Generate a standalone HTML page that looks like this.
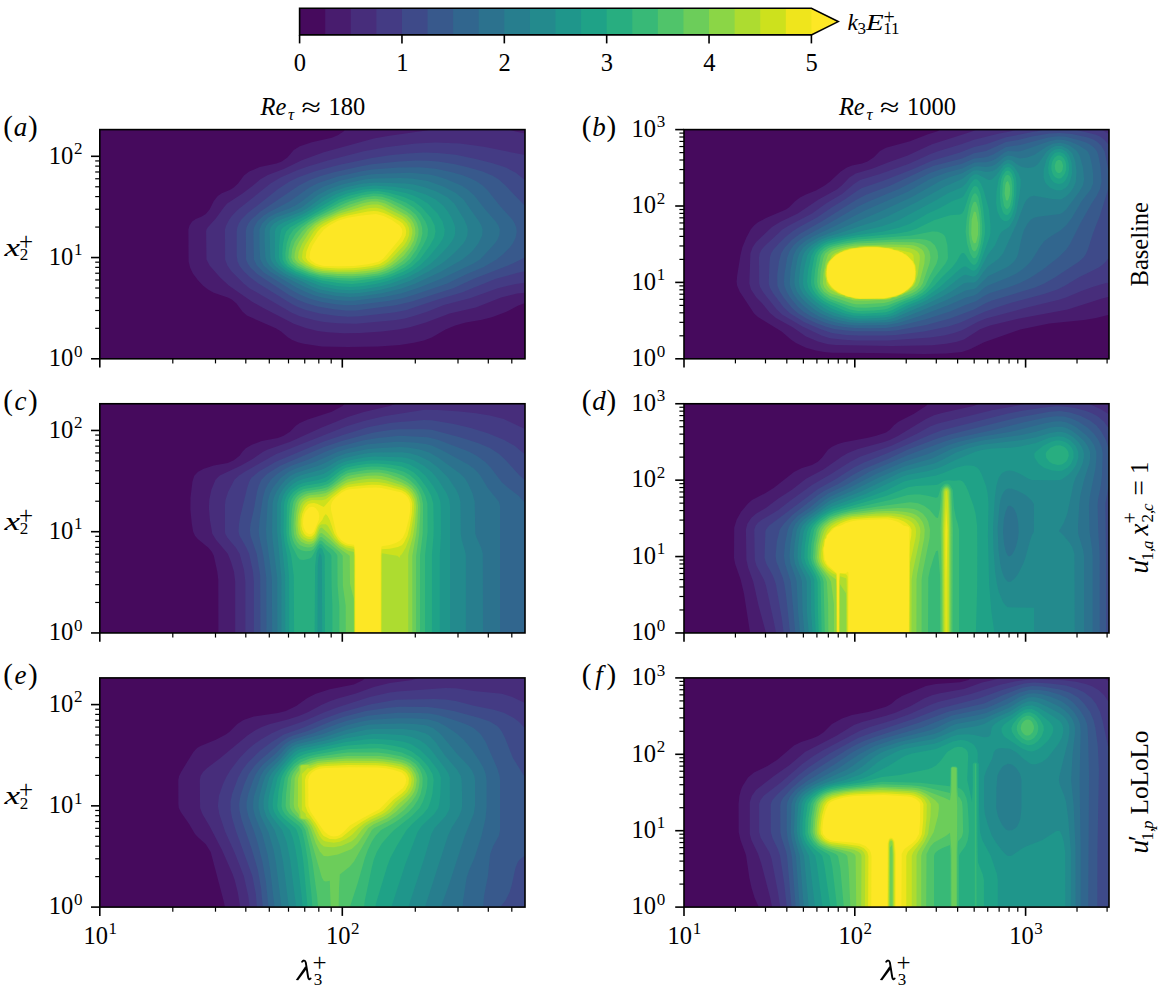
<!DOCTYPE html>
<html><head><meta charset="utf-8"><style>html,body{margin:0;padding:0;background:#fff;overflow:hidden}svg{display:block}</style></head><body><svg width="1158" height="993" viewBox="0 0 1158 993" font-family="Liberation Serif, serif">
<defs>
<clipPath id="cpa"><rect x="99.8" y="129.6" width="425.2" height="229.2"/></clipPath>
<clipPath id="cpb"><rect x="684" y="129.6" width="425" height="229.2"/></clipPath>
<clipPath id="cpc"><rect x="99.8" y="403.75" width="425.2" height="229.2"/></clipPath>
<clipPath id="cpd"><rect x="684" y="403.75" width="425" height="229.2"/></clipPath>
<clipPath id="cpe"><rect x="99.8" y="677.9" width="425.2" height="229.2"/></clipPath>
<clipPath id="cpf"><rect x="684" y="677.9" width="425" height="229.2"/></clipPath>
</defs>
<rect width="1158" height="993" fill="#fff"/>
<g clip-path="url(#cpa)"><rect x="99.8" y="129.6" width="425.2" height="229.2" fill="#460a5d"/>
<path fill="#481c6e" d="M343.8,131.3 345.8,127.6 527.8,127.6 527.8,303.3 523.8,303.6 518.3,305.6 505.8,312.1 491.8,317.3 481.8,319.8 465.8,322.4 455.1,325.6 445.5,329.6 431.7,337.6 423.8,340.4 413.8,342.8 399.8,344.9 377.8,346.5 347.8,346.9 321.8,346.4 303.8,343.7 297.8,342.2 291.8,339.7 287.8,337.3 281.1,331.6 275.8,328.2 246.9,315.6 242.4,311.6 236.5,303.6 231.8,299.6 227.8,297.4 213.8,292.8 208.0,289.6 202.9,285.6 197.8,280.1 192.9,273.6 190.1,267.6 188.6,261.6 188.4,229.6 189.5,225.6 192.2,221.6 195.8,219.0 201.8,216.6 205.8,214.0 209.6,209.6 213.8,201.1 217.8,195.9 221.8,193.2 229.8,189.9 233.8,187.5 238.1,183.6 244.0,175.6 249.2,171.6 259.8,167.1 276.5,163.6 281.8,161.6 287.4,157.6 293.8,149.9 299.8,146.2 311.8,142.2 331.8,137.7 337.8,135.2 343.6,131.6Z"/>
<path fill="#472d7b" d="M419.8,131.4 435.8,128.8 445.8,127.7 499.8,127.6 505.8,128.3 515.4,131.6 523.8,133.3 527.8,133.6 527.8,292.4 517.1,293.6 501.0,297.6 475.8,307.6 449.6,313.6 425.8,322.5 409.8,327.3 399.8,329.3 381.8,331.5 359.8,333.1 343.8,333.3 327.8,332.3 317.8,331.1 305.8,328.1 293.8,323.8 263.8,308.3 251.8,301.5 228.8,285.6 220.2,277.6 209.6,265.6 206.5,259.6 206.1,231.6 206.5,229.6 207.7,227.6 215.8,218.4 223.8,207.4 227.2,203.6 242.5,193.6 251.8,186.6 260.1,179.6 267.8,174.9 283.8,169.0 301.8,160.3 323.8,152.2 373.8,138.6 387.8,136.0 419.0,131.6Z"/>
<path fill="#443b84" d="M415.8,143.6 435.8,142.5 459.8,143.6 483.8,146.8 523.8,154.8 527.8,155.1 527.8,282.4 515.8,283.9 497.8,288.2 469.8,298.3 443.8,305.1 427.8,311.4 413.8,316.1 403.8,318.7 393.8,320.2 355.8,323.7 337.8,323.3 323.8,321.9 313.8,320.1 299.8,316.2 291.8,312.7 249.8,288.4 243.7,283.6 231.6,271.6 227.4,265.6 225.1,259.6 225.0,229.6 226.1,225.6 229.3,219.6 232.2,215.6 237.8,209.8 270.5,183.6 280.5,177.6 297.8,170.0 307.8,166.5 327.8,160.5 363.8,151.3 385.8,147.2 415.6,143.6Z"/>
<path fill="#3e4a89" d="M407.8,153.5 423.8,152.4 437.8,152.9 455.8,154.8 475.8,158.9 491.8,162.9 506.0,167.6 515.8,172.7 523.8,179.3 527.8,180.5 527.8,271.4 523.8,271.6 517.8,272.8 495.8,278.7 461.8,292.4 437.8,299.6 405.8,310.2 393.8,312.4 359.8,316.2 347.8,316.7 335.8,315.8 319.8,313.5 305.8,309.9 297.8,307.0 291.8,304.0 258.5,283.6 249.8,276.9 244.0,271.6 239.8,266.3 237.5,261.6 236.7,255.6 236.7,231.6 237.3,227.6 238.8,223.6 241.4,219.6 247.8,213.1 277.8,189.3 289.6,181.6 297.8,177.5 315.8,171.1 339.8,164.8 371.8,158.0 389.8,155.3 406.9,153.6Z"/>
<path fill="#38598c" d="M399.8,161.5 415.8,160.6 427.8,160.7 437.8,161.6 453.8,164.1 467.8,167.2 481.8,171.3 492.2,175.6 498.8,179.6 505.5,185.6 523.8,204.7 527.8,206.0 527.8,256.9 523.8,257.9 512.7,263.6 473.8,278.7 453.8,288.1 411.8,301.4 395.8,305.3 355.8,310.4 345.8,310.6 333.8,309.3 317.8,306.5 305.8,303.0 297.8,299.7 289.8,295.4 257.8,274.5 250.4,267.6 247.7,263.6 246.1,259.6 245.8,231.6 246.5,227.6 248.3,223.6 251.4,219.6 259.8,212.0 299.0,185.6 309.8,179.9 319.8,176.3 333.8,172.2 359.8,166.5 371.8,164.3 398.9,161.6Z"/>
<path fill="#31668e" d="M399.8,167.5 419.8,167.2 435.8,168.7 451.8,172.2 461.8,175.1 469.8,178.0 476.8,181.6 482.6,185.6 487.8,190.5 499.8,205.8 512.3,219.6 514.7,223.6 516.2,227.6 516.7,231.6 515.7,237.6 512.8,243.6 509.8,247.6 503.8,253.6 496.5,259.6 483.8,266.9 465.8,274.6 447.3,283.6 415.8,294.3 401.8,298.4 387.8,301.0 355.8,305.1 345.8,305.2 335.8,304.2 321.8,302.0 309.8,298.7 299.8,294.5 291.8,290.3 263.8,272.4 256.9,265.6 253.9,259.6 253.4,231.6 254.0,227.6 257.3,221.6 263.8,215.5 269.8,211.7 289.6,201.6 309.4,187.6 317.8,183.2 337.8,176.5 361.8,171.2 371.8,169.6 398.5,167.6Z"/>
<path fill="#2c728e" d="M387.8,173.6 409.8,172.8 429.8,174.5 437.8,176.4 445.8,179.0 461.8,185.8 467.8,189.7 474.3,195.6 485.2,209.6 495.7,221.6 498.4,225.6 499.8,229.6 499.3,235.6 497.5,239.6 494.8,243.6 480.0,259.6 473.5,263.6 441.8,278.6 419.3,287.6 401.8,293.3 383.8,297.0 353.8,300.8 345.8,300.8 335.8,299.9 321.8,297.5 313.8,295.3 305.8,292.1 295.8,287.2 270.1,271.6 263.6,265.6 260.3,259.6 259.5,247.6 259.4,229.6 262.1,223.6 268.3,217.6 275.8,213.5 289.8,208.3 295.4,205.6 301.5,201.6 313.8,191.9 323.8,186.5 339.8,180.8 359.8,176.2 371.8,174.3 387.4,173.6Z"/>
<path fill="#277e8e" d="M365.8,179.3 373.8,178.5 399.8,178.0 411.8,178.5 427.8,181.1 443.8,186.8 455.8,192.9 463.5,199.6 479.1,221.6 481.3,225.6 482.6,229.6 482.2,235.6 478.3,243.6 471.8,251.7 462.4,259.6 441.3,271.6 415.5,283.6 401.8,288.5 381.8,293.3 359.8,296.5 349.8,297.1 335.8,296.0 317.8,292.5 303.8,286.6 283.8,276.2 277.8,272.5 273.7,269.6 269.4,265.6 266.7,261.6 265.4,257.6 264.6,241.6 264.7,229.6 266.3,225.6 269.8,221.6 275.9,217.6 292.8,211.6 301.6,207.6 317.8,195.1 328.2,189.6 341.8,184.6 364.1,179.6Z"/>
<path fill="#238a8d" d="M363.8,183.4 375.8,182.4 405.8,183.4 413.8,184.6 423.8,187.0 436.5,191.6 447.7,197.6 454.3,203.6 464.2,219.6 466.8,225.6 467.8,229.6 467.3,235.6 465.8,239.6 463.3,243.6 455.8,251.6 446.9,259.6 441.6,263.6 428.6,271.6 409.8,280.9 393.8,286.5 379.8,289.9 359.8,293.0 349.8,293.6 335.8,292.4 319.8,289.4 311.8,286.4 302.2,281.6 289.8,276.3 283.8,273.0 279.0,269.6 274.6,265.6 271.7,261.6 270.3,257.6 269.6,231.6 270.6,227.6 273.8,223.5 279.8,220.0 301.8,211.5 308.3,207.6 321.8,197.6 333.4,191.6 345.8,187.2 362.9,183.6Z"/>
<path fill="#1f968b" d="M359.8,187.3 373.8,185.6 393.8,186.8 409.8,189.2 425.8,194.4 435.7,199.6 443.1,205.6 447.8,211.6 451.4,217.6 454.0,223.6 455.1,227.6 455.2,233.6 454.0,237.6 451.8,241.6 447.1,247.6 437.5,257.6 430.8,263.6 418.8,271.6 407.8,277.3 391.8,283.2 379.8,286.4 361.8,289.4 349.8,290.3 337.8,289.4 321.8,286.5 295.8,276.3 286.4,271.6 279.1,265.6 276.2,261.6 274.9,257.6 274.9,231.6 275.8,228.4 278.1,225.6 283.8,222.3 304.1,213.6 310.9,209.6 323.8,200.7 335.8,194.3 345.8,190.6 358.6,187.6Z"/>
<path fill="#1fa287" d="M363.8,189.4 375.8,188.4 389.8,189.7 405.8,193.1 413.3,195.6 419.8,198.5 427.8,203.6 437.5,213.6 442.5,221.6 444.7,229.6 444.1,235.6 442.4,239.6 439.8,243.6 428.3,257.6 419.8,265.6 411.8,271.1 403.8,275.1 387.8,280.9 375.8,283.9 359.8,286.4 349.8,287.1 337.8,286.2 321.8,283.3 297.8,274.7 289.8,271.0 285.0,267.6 281.8,264.2 280.1,261.6 278.8,257.6 279.0,245.6 279.9,235.6 281.3,229.6 283.0,227.6 289.4,223.6 305.8,215.6 329.8,201.2 337.8,196.9 347.8,193.2 363.0,189.6Z"/>
<path fill="#28ae80" d="M367.8,191.5 377.8,191.1 387.8,192.5 403.8,197.0 414.0,201.6 421.8,207.6 430.6,217.6 434.6,225.6 435.5,231.6 434.3,237.6 429.9,245.6 419.6,259.6 411.8,266.7 403.6,271.6 389.8,277.2 379.8,280.0 363.8,282.7 351.8,283.9 339.8,283.3 321.8,280.5 307.8,276.2 295.6,271.6 287.8,266.7 284.7,263.6 282.6,259.6 282.2,253.6 283.0,243.6 284.7,235.6 286.3,231.6 290.0,227.6 339.8,199.3 349.8,195.6 367.1,191.6Z"/>
<path fill="#38b977" d="M373.8,193.6 381.8,194.1 391.8,196.7 405.8,202.4 413.8,207.5 420.2,213.6 425.4,221.6 427.1,225.6 428.0,229.6 427.6,235.6 426.2,239.6 423.2,245.6 415.7,257.6 410.0,263.6 404.4,267.6 393.8,272.9 383.8,276.5 373.8,278.5 353.8,280.9 341.8,280.6 321.8,278.2 309.8,274.9 295.8,269.4 289.8,265.4 287.8,263.2 285.7,259.6 285.3,253.6 286.7,243.6 289.5,235.6 293.7,229.6 299.0,225.6 313.8,216.4 339.8,202.5 345.8,199.9 361.8,195.2 373.1,193.6Z"/>
<path fill="#50c46a" d="M363.8,197.4 373.8,196.1 381.8,196.8 389.8,199.2 401.8,204.8 409.8,209.6 415.8,214.8 420.2,221.6 422.1,227.6 422.4,233.6 420.4,241.6 416.5,249.6 409.8,259.0 404.7,263.6 395.8,269.0 387.8,272.7 379.8,275.2 365.8,277.3 351.8,278.5 337.8,278.0 321.8,276.3 309.8,273.1 296.7,267.6 291.4,263.6 289.8,261.6 288.3,257.6 288.9,249.6 291.1,241.6 295.7,233.6 301.4,227.6 309.5,221.6 316.0,217.6 341.8,204.7 349.4,201.6 363.0,197.6Z"/>
<path fill="#6ccd5a" d="M367.8,199.3 375.8,198.7 383.8,200.1 389.8,202.4 405.8,211.0 411.8,215.6 415.0,219.6 417.1,223.6 418.6,229.6 418.3,235.6 415.8,243.6 412.5,249.6 406.4,257.6 401.8,261.8 393.0,267.6 385.8,271.1 377.8,273.4 363.8,275.4 351.8,276.3 337.8,276.0 319.8,274.2 309.8,271.2 297.8,265.8 293.0,261.6 291.3,257.6 292.1,249.6 295.0,241.6 302.1,231.6 308.0,225.6 319.8,217.9 335.8,210.4 349.8,204.5 366.1,199.6Z"/>
<path fill="#8bd646" d="M371.8,201.5 377.8,201.5 385.2,203.6 407.1,215.6 411.2,219.6 413.6,223.6 415.0,227.6 415.4,233.6 413.8,240.3 410.1,247.6 403.8,255.4 397.1,261.6 389.8,266.7 381.8,270.2 375.8,271.7 363.8,273.4 351.8,274.3 337.8,274.1 323.8,273.1 315.8,271.5 305.8,267.6 297.8,262.8 295.1,259.6 294.5,257.6 294.7,253.6 296.2,247.6 299.2,241.6 307.7,229.6 314.6,223.6 321.8,219.2 339.8,211.1 361.6,203.6 370.8,201.6Z"/>
<path fill="#addc30" d="M365.8,205.6 371.8,204.5 377.8,204.6 381.8,205.6 387.8,208.4 401.8,215.6 405.8,218.3 410.3,223.6 412.3,229.6 412.3,233.6 410.9,239.6 407.8,245.6 404.7,249.6 395.0,259.6 390.1,263.6 383.8,267.2 377.8,269.2 365.8,271.1 353.8,272.2 337.8,272.2 321.8,271.1 313.8,269.0 306.2,265.6 300.4,261.6 298.8,259.6 298.0,257.6 298.7,251.6 302.2,243.6 309.9,231.6 315.7,225.6 321.8,221.6 337.8,214.1 365.8,205.6Z"/>
<path fill="#cde11d" d="M363.8,209.3 369.8,208.1 375.8,207.7 379.8,208.4 383.8,209.8 402.7,219.6 406.8,223.6 408.8,227.6 409.4,231.6 409.0,235.6 406.6,241.6 403.9,245.6 388.6,261.6 383.8,264.7 377.8,267.0 365.8,269.1 353.8,270.2 337.8,270.4 323.6,269.6 315.8,267.9 309.8,265.3 304.5,261.6 302.8,259.6 302.0,257.6 302.7,251.6 305.0,245.6 313.7,231.6 317.8,227.1 323.8,223.1 337.8,216.3 345.8,213.7 362.7,209.6Z"/>
<path fill="#efe51c" d="M367.8,211.6 373.8,211.0 377.8,211.2 383.8,212.9 389.8,215.7 399.8,221.3 402.7,223.6 405.4,227.6 406.2,231.6 405.7,235.6 402.7,241.6 386.7,259.6 379.8,263.9 371.8,266.0 360.6,267.6 351.8,268.2 337.8,268.4 322.0,267.6 315.8,265.9 311.0,263.6 307.8,261.0 305.7,257.6 306.4,251.6 309.8,243.6 317.6,231.6 321.4,227.6 331.4,221.6 339.8,217.8 347.8,215.5 367.6,211.6Z"/>
<path fill="#fde725" d="M361.8,215.5 375.8,214.1 383.8,216.1 391.8,220.1 399.6,225.6 401.8,228.7 402.4,231.6 401.7,235.6 399.3,239.6 383.8,258.0 381.8,259.8 377.8,261.9 367.8,264.2 353.8,265.9 337.8,266.3 323.8,265.9 319.8,265.1 315.6,263.6 311.8,261.1 310.4,259.6 309.5,257.6 310.2,251.6 312.6,245.6 317.8,237.3 323.9,229.6 329.3,225.6 337.8,220.8 347.8,217.8 361.3,215.6Z"/>
</g>
<g clip-path="url(#cpb)"><rect x="684" y="129.6" width="425" height="229.2" fill="#460a5d"/>
<path fill="#481c6e" d="M938.0,130.9 942.3,127.6 1112.0,127.6 1112.0,314.7 1108.0,315.1 1096.0,318.1 1084.0,320.1 1049.2,323.6 1020.2,329.6 984.0,342.2 970.0,349.3 962.0,351.9 946.0,353.5 924.0,354.0 872.0,352.9 832.0,352.7 824.0,352.0 816.0,350.5 806.0,347.7 796.0,343.1 790.9,339.6 781.6,331.6 758.0,316.9 754.1,313.6 739.6,291.6 737.1,285.6 736.6,281.6 737.2,275.6 740.4,255.6 742.3,247.6 746.4,237.6 750.7,229.6 754.0,225.4 758.0,222.3 766.0,218.1 786.0,209.4 788.9,207.6 794.8,201.6 800.0,197.6 806.0,194.5 816.0,190.5 824.7,185.6 830.1,181.6 840.8,171.6 846.9,167.6 852.0,165.6 862.0,163.6 867.5,161.6 873.6,157.6 880.0,151.1 886.0,147.8 910.0,141.2 928.0,134.3 936.9,131.6Z"/>
<path fill="#472d7b" d="M974.0,130.6 983.5,127.6 1112.0,127.6 1112.0,296.8 1108.0,297.0 1102.0,298.6 1067.6,309.6 1018.0,318.8 990.0,325.5 980.0,329.3 964.0,339.4 956.0,342.0 946.0,343.8 932.0,345.2 892.0,346.1 836.0,345.1 828.0,344.2 818.0,341.5 806.0,336.4 793.1,327.6 776.0,318.1 770.0,313.0 762.3,303.6 756.0,297.1 751.0,289.6 749.3,283.6 750.4,253.6 752.5,247.6 756.0,242.2 772.0,227.0 780.0,222.0 797.8,213.6 818.6,199.6 836.8,189.6 841.8,185.6 849.4,177.6 855.7,173.6 872.0,168.7 888.0,162.5 907.7,155.6 932.0,144.3 972.1,131.6Z"/>
<path fill="#443b84" d="M1012.0,131.1 1021.5,127.6 1098.2,127.6 1108.0,133.6 1112.0,134.4 1112.0,282.4 1106.0,283.0 1094.0,286.5 1082.0,290.7 1066.0,297.4 1058.0,300.0 1026.9,307.6 986.0,318.6 978.0,321.8 962.0,330.3 954.0,333.1 944.0,335.5 930.0,337.6 888.0,340.5 856.0,340.4 844.0,339.8 830.0,338.2 821.5,335.6 802.0,326.2 782.0,314.5 776.8,309.6 764.1,293.6 760.3,287.6 759.1,283.6 759.0,257.6 759.6,253.6 761.7,249.6 764.0,246.8 782.4,229.6 789.0,225.6 812.0,213.4 826.0,203.4 842.0,194.0 854.0,183.9 860.0,180.1 880.0,173.9 909.7,163.6 930.0,154.2 938.0,151.3 962.0,144.0 974.0,139.8 999.2,133.6 1010.2,131.6Z"/>
<path fill="#3e4a89" d="M1036.0,131.4 1053.1,127.6 1064.9,127.6 1070.0,128.4 1096.0,134.8 1100.0,136.6 1104.0,139.4 1108.0,144.0 1112.0,145.6 1112.0,256.9 1108.0,258.8 1104.1,263.6 1098.8,267.6 1078.5,277.6 1065.3,285.6 1058.0,289.2 1044.0,294.1 1012.0,302.6 998.0,306.9 984.0,312.0 960.0,322.7 948.0,326.5 924.0,331.4 896.0,335.0 886.0,335.6 858.0,335.6 846.0,334.9 832.0,333.0 820.0,329.1 804.0,321.9 790.3,313.6 783.8,307.6 773.2,293.6 769.8,287.6 768.7,283.6 769.4,263.6 770.0,257.6 771.0,253.6 773.5,249.6 778.8,243.6 784.9,237.6 792.3,231.6 798.5,227.6 817.0,217.6 832.0,207.3 844.7,199.6 858.0,190.2 862.0,188.1 884.0,180.5 912.0,169.4 932.0,160.7 960.0,152.5 974.0,146.9 986.0,144.2 1006.0,137.2 1035.1,131.6Z"/>
<path fill="#38598c" d="M1050.0,133.5 1060.0,132.9 1072.0,134.1 1088.0,137.5 1093.2,139.6 1096.7,141.6 1101.1,145.6 1104.6,151.6 1108.0,168.1 1111.3,175.6 1112.0,179.6 1111.5,183.6 1108.0,189.8 1099.9,215.6 1092.9,233.6 1087.9,249.6 1086.1,253.6 1083.5,257.6 1079.1,261.6 1054.8,277.6 1044.2,283.6 1035.0,287.6 992.0,300.6 986.0,303.0 974.0,309.4 950.0,318.5 926.0,324.9 896.0,330.4 886.0,331.3 856.0,331.3 846.0,330.6 834.0,328.9 826.0,326.8 816.0,322.9 806.0,318.2 798.0,313.3 792.0,308.0 783.6,297.6 779.8,291.6 777.4,285.6 777.2,275.6 779.0,261.6 781.1,253.6 784.7,247.6 792.0,239.7 800.0,233.7 822.0,221.2 856.0,199.9 866.0,194.8 890.0,185.8 924.6,169.6 934.0,165.8 962.0,158.5 974.0,153.2 986.0,150.9 1006.0,142.1 1018.0,140.0 1032.0,136.6 1049.3,133.6Z"/>
<path fill="#31668e" d="M1050.0,137.2 1058.0,136.2 1066.0,136.8 1080.0,140.4 1086.0,142.4 1090.0,144.4 1094.0,147.6 1097.0,151.6 1098.4,155.6 1100.6,167.6 1101.6,181.6 1099.8,189.6 1096.8,195.6 1091.6,203.6 1080.0,224.1 1070.0,244.0 1066.3,249.6 1058.2,257.6 1042.9,269.6 1030.7,277.6 1020.0,283.1 1008.0,287.5 990.0,293.1 984.0,296.0 976.0,301.3 966.0,304.8 950.0,311.4 926.0,319.2 898.0,326.3 886.0,327.9 870.0,328.2 854.0,328.1 842.0,326.7 832.0,324.8 824.0,322.3 812.0,316.9 803.2,311.6 798.0,306.9 790.1,297.6 786.5,291.6 784.3,285.6 784.0,281.6 784.5,273.6 787.2,257.6 789.4,251.6 793.5,245.6 798.0,241.2 804.0,237.0 832.2,221.6 858.0,206.5 868.0,201.7 900.0,188.5 930.0,173.0 942.0,168.8 962.0,163.7 974.0,158.6 984.0,157.6 988.0,156.6 994.0,154.1 1006.0,147.0 1020.0,144.9 1048.2,137.6Z"/>
<path fill="#2c728e" d="M1058.0,139.5 1064.0,140.0 1070.0,141.6 1079.1,145.6 1086.0,149.9 1088.0,152.1 1089.7,155.6 1092.0,165.3 1093.1,173.6 1093.1,183.6 1090.7,189.6 1081.4,201.6 1072.0,217.7 1066.0,225.4 1060.0,230.8 1048.9,237.6 1044.0,241.6 1040.0,246.8 1032.2,259.6 1029.0,263.6 1022.4,269.6 1016.0,273.7 1008.0,277.6 988.0,285.4 984.0,288.0 978.0,293.2 974.0,295.4 966.0,297.5 950.0,304.6 920.0,315.9 898.0,322.9 886.0,325.1 856.0,325.5 846.0,324.5 836.0,322.4 828.0,320.2 818.0,315.9 810.5,311.6 804.0,306.3 797.4,299.6 793.1,293.6 790.5,287.6 789.7,283.6 790.6,269.6 793.4,255.6 796.4,249.6 799.7,245.6 806.0,240.5 814.0,236.1 835.9,225.6 866.0,210.1 908.3,191.6 929.1,179.6 936.0,176.4 946.0,172.8 962.0,168.4 974.0,162.8 978.0,162.3 986.0,162.3 992.0,160.8 996.0,158.8 1004.0,152.7 1008.0,151.1 1018.0,151.4 1022.0,150.7 1050.0,141.0 1057.3,139.6Z"/>
<path fill="#277e8e" d="M1054.0,143.4 1060.0,142.7 1064.0,143.4 1069.5,145.6 1075.2,149.6 1077.2,151.6 1079.6,155.6 1083.0,167.6 1084.1,179.6 1082.9,185.6 1079.4,191.6 1066.0,209.7 1062.0,213.1 1060.0,213.9 1038.0,216.8 1034.0,217.8 1031.0,219.6 1027.6,223.6 1024.0,230.0 1022.0,236.3 1018.2,253.6 1016.8,257.6 1014.1,261.6 1010.0,265.3 1006.4,267.6 988.0,276.2 976.0,288.0 974.0,288.9 966.0,290.2 946.0,300.2 920.0,311.3 896.0,320.4 890.0,321.9 884.0,322.6 860.0,323.1 850.0,322.5 840.0,320.5 829.8,317.6 820.8,313.6 814.0,309.3 806.0,302.6 801.1,297.6 796.9,291.6 794.8,285.6 794.4,281.6 794.9,273.6 797.3,259.6 799.2,253.6 803.3,247.6 808.0,243.6 818.0,237.7 838.5,229.6 880.0,211.7 912.0,197.0 939.3,181.6 948.6,177.6 962.0,173.3 974.0,166.7 978.0,166.2 986.0,167.0 992.0,165.9 996.0,164.0 1004.0,157.3 1008.0,155.6 1012.0,156.0 1020.0,158.6 1027.0,157.6 1034.0,154.9 1046.0,147.0 1053.2,143.6Z"/>
<path fill="#238a8d" d="M1052.0,147.6 1056.0,146.1 1062.0,146.1 1068.0,148.9 1072.4,153.6 1075.3,161.6 1076.5,171.6 1075.9,181.6 1073.6,187.6 1070.0,192.7 1066.0,196.6 1062.0,199.1 1060.0,199.6 1052.0,199.0 1034.0,195.8 1030.0,196.8 1028.0,198.4 1026.0,200.8 1024.0,204.6 1016.8,223.6 1003.0,253.6 998.0,259.3 988.0,266.4 984.0,271.2 978.1,279.6 976.0,281.6 974.0,282.5 968.0,282.4 964.0,283.3 951.3,291.6 942.0,296.7 924.0,305.2 894.0,318.1 886.0,319.9 878.0,320.4 858.0,320.8 850.0,320.0 834.0,315.9 823.9,311.6 820.0,309.2 812.0,302.9 806.2,297.6 802.8,293.6 799.7,287.6 798.8,281.6 800.2,267.6 802.3,257.6 803.8,253.6 806.6,249.6 810.9,245.6 820.0,239.8 828.0,236.6 838.6,233.6 858.0,226.8 875.0,221.6 885.3,217.6 916.0,202.5 944.0,187.0 962.0,179.1 971.9,171.6 974.0,170.5 978.0,170.2 986.0,172.0 992.0,171.3 996.0,169.2 1004.0,161.4 1008.0,159.6 1012.0,160.6 1018.0,165.0 1022.0,167.0 1028.0,167.9 1034.0,166.9 1038.0,164.0 1046.7,151.6 1051.9,147.6Z"/>
<path fill="#1f968b" d="M1056.0,149.2 1060.0,148.8 1062.0,149.2 1066.2,151.6 1069.3,155.6 1071.8,163.6 1072.0,173.6 1070.0,181.6 1068.0,185.2 1066.0,187.5 1062.0,190.1 1060.0,190.6 1056.0,190.3 1050.0,187.7 1045.9,183.6 1044.8,181.6 1043.6,177.6 1043.7,169.6 1046.4,159.6 1049.7,153.6 1052.0,151.3 1055.0,149.6ZM1008.0,163.3 1010.0,163.7 1012.0,164.9 1014.6,167.6 1018.5,173.6 1020.7,179.6 1020.7,185.6 1019.4,195.6 1016.5,211.6 1013.7,219.6 1010.0,225.8 1008.0,227.8 1002.0,231.6 1000.0,234.0 994.9,245.6 988.0,254.6 978.0,273.5 976.0,275.5 974.0,276.5 972.0,276.4 966.0,274.7 964.0,275.1 960.0,277.5 944.7,289.6 927.8,299.6 922.0,302.5 908.0,308.3 896.0,314.5 890.0,316.6 884.0,317.6 868.0,318.4 858.0,318.5 850.0,317.6 842.0,315.6 830.0,311.2 824.0,307.9 816.0,302.1 809.1,295.6 806.0,291.6 803.9,287.6 803.0,283.6 803.3,275.6 804.8,265.6 807.3,255.6 809.6,251.6 813.2,247.6 818.0,243.8 822.0,241.5 828.0,239.1 882.0,226.2 890.1,223.6 899.8,219.6 936.0,200.3 948.0,193.3 962.0,187.3 966.0,183.4 970.2,177.6 974.0,174.6 976.0,174.2 978.0,174.4 988.0,179.7 990.0,179.9 992.0,179.3 996.0,175.6 1003.5,165.6 1006.9,163.6Z"/>
<path fill="#1fa287" d="M1056.0,152.5 1060.0,152.0 1064.0,153.8 1066.9,157.6 1068.8,163.6 1069.1,169.6 1067.9,175.6 1066.0,179.6 1064.0,182.1 1062.0,183.5 1058.0,184.1 1054.0,182.6 1051.1,179.6 1048.6,173.6 1048.1,167.6 1049.1,161.6 1050.9,157.6 1054.1,153.6ZM1006.0,167.4 1008.0,166.9 1010.0,167.5 1013.6,171.6 1015.9,177.6 1016.5,183.6 1016.4,193.6 1014.6,207.6 1012.0,215.5 1010.0,218.8 1008.0,220.7 1006.0,221.3 1004.0,221.0 1001.9,219.6 1000.2,217.6 997.4,211.6 996.1,203.6 996.5,191.6 998.5,179.6 1002.0,171.6 1005.7,167.6ZM974.0,179.6 976.0,179.1 978.0,179.9 980.8,183.6 983.4,189.6 988.9,209.6 990.5,225.6 990.4,233.6 989.5,237.6 980.0,263.4 978.0,267.3 976.0,269.8 974.0,270.7 972.0,270.4 966.0,266.5 964.0,266.5 960.0,269.0 939.2,287.6 924.0,298.3 918.0,301.2 906.0,305.9 892.0,313.2 886.0,314.9 880.0,315.4 864.0,316.1 854.0,315.8 844.5,313.6 832.0,308.7 822.0,303.1 817.4,299.6 813.4,295.6 810.3,291.6 808.1,287.6 807.0,281.6 808.2,269.6 811.4,255.6 815.1,249.6 822.0,244.1 828.0,241.3 836.0,239.1 856.0,235.2 883.3,231.6 899.5,227.6 910.0,223.8 928.0,213.4 940.0,207.9 952.0,201.2 962.0,197.4 964.0,195.6 970.6,183.6 974.0,179.6Z"/>
<path fill="#28ae80" d="M1058.0,155.5 1060.0,155.5 1062.0,156.4 1064.0,158.5 1065.5,161.6 1066.3,165.6 1066.2,169.6 1065.0,173.6 1062.0,177.6 1060.0,178.6 1058.0,178.6 1056.0,177.8 1054.0,176.0 1052.6,173.6 1051.4,169.6 1051.4,165.6 1052.3,161.6 1054.6,157.6 1057.7,155.6ZM1006.0,171.1 1008.0,170.6 1010.0,171.5 1012.0,174.2 1013.7,179.6 1014.2,185.6 1014.0,195.6 1012.6,205.6 1010.5,211.6 1008.0,214.7 1006.0,215.0 1004.0,213.7 1002.7,211.6 1000.8,205.6 999.9,197.6 1000.1,187.6 1001.2,179.6 1002.6,175.6 1005.5,171.6ZM974.0,186.3 976.0,185.9 978.0,187.8 980.4,193.6 983.1,207.6 984.9,225.6 984.9,233.6 983.6,241.6 980.6,253.6 977.6,261.6 976.0,263.9 974.0,264.9 972.0,264.1 969.7,261.6 966.0,255.4 964.0,253.0 962.0,252.9 960.0,255.3 956.6,261.6 952.0,267.5 942.0,277.1 934.5,285.6 925.9,293.6 918.0,298.5 904.0,303.9 892.0,310.2 886.0,312.2 880.0,312.8 864.0,313.7 854.0,313.3 846.0,311.3 830.0,304.5 824.0,301.2 820.0,298.3 815.4,293.6 812.8,289.6 811.3,285.6 810.9,281.6 811.6,271.6 814.2,257.6 815.7,253.6 818.7,249.6 823.8,245.6 828.0,243.6 844.0,239.5 858.0,237.3 897.2,233.6 908.4,231.6 916.0,229.1 934.0,220.2 950.0,215.2 960.0,214.5 962.0,213.5 964.0,210.4 969.6,193.6 972.8,187.6Z"/>
<path fill="#38b977" d="M1058.0,160.1 1060.0,160.1 1061.8,161.6 1063.1,165.6 1062.6,169.6 1062.0,171.1 1060.0,172.9 1058.0,172.9 1056.0,171.3 1055.2,169.6 1054.7,165.6 1056.1,161.6ZM1006.0,175.4 1008.0,174.8 1010.0,176.3 1011.3,179.6 1012.2,185.6 1012.2,193.6 1011.5,199.6 1010.0,205.7 1008.0,208.7 1006.0,208.7 1004.0,205.7 1002.2,195.6 1002.8,183.6 1004.0,178.6 1005.8,175.6ZM974.0,193.6 976.0,193.6 978.0,196.8 978.8,199.6 981.0,211.6 982.2,225.6 982.1,233.6 980.8,243.6 978.0,253.6 976.0,257.5 974.0,258.6 972.6,257.6 970.0,253.2 967.1,243.6 965.6,231.6 966.6,219.6 969.1,205.6 972.0,196.4 974.0,193.6ZM934.0,231.5 938.0,231.8 942.0,233.4 944.0,235.1 945.5,237.6 947.4,245.6 948.0,257.6 947.5,259.6 945.5,263.6 934.0,278.0 929.3,285.6 926.0,289.6 922.0,293.1 914.1,297.6 903.1,301.6 888.0,308.6 884.0,309.5 874.0,310.4 858.0,311.0 850.0,309.6 828.0,300.6 823.2,297.6 818.9,293.6 815.2,287.6 814.2,283.6 814.2,279.6 815.1,269.6 816.9,259.6 817.9,255.6 820.2,251.6 824.8,247.6 830.0,245.0 848.0,240.8 858.0,239.4 911.5,235.6 932.2,231.6Z"/>
<path fill="#50c46a" d="M1008.0,181.1 1009.7,185.6 1010.1,189.6 1009.6,195.6 1008.0,200.6 1006.0,200.2 1004.6,193.6 1005.2,185.6 1006.0,182.4 1007.1,181.6ZM974.0,201.8 976.0,202.1 978.0,207.4 979.4,215.6 980.2,225.6 980.1,233.6 979.4,239.6 978.0,246.1 976.0,250.5 974.0,251.5 972.0,249.2 969.8,241.6 968.8,233.6 968.8,225.6 969.5,217.6 971.5,207.6 973.0,203.6ZM896.0,239.5 920.0,239.0 926.0,239.8 930.6,241.6 935.0,245.6 937.6,251.6 938.2,257.6 936.5,263.6 930.0,275.4 925.3,285.6 922.0,289.6 916.8,293.6 912.0,295.9 888.0,305.3 882.0,306.4 866.0,307.7 856.0,307.6 848.0,305.5 830.0,298.9 824.6,295.6 820.6,291.6 818.0,287.1 817.1,281.6 818.0,269.6 820.9,255.6 823.6,251.6 828.0,248.2 832.0,246.4 842.0,243.9 858.0,241.4 894.5,239.6Z"/>
<path fill="#6ccd5a" d="M974.0,211.5 976.0,212.3 978.1,223.6 978.0,234.9 976.0,242.7 973.9,243.6 972.0,239.3 971.2,233.6 971.7,219.6 974.0,211.6ZM856.0,243.5 892.0,242.0 914.0,242.3 920.0,243.4 924.0,245.0 927.1,247.6 929.5,251.6 930.5,257.6 929.5,263.6 922.7,283.6 920.1,287.6 916.0,291.1 912.0,293.3 890.0,301.6 884.0,302.9 862.0,304.3 856.0,304.2 852.0,303.4 830.0,296.1 824.0,291.7 821.2,287.6 820.0,283.6 820.6,271.6 823.4,257.6 825.2,253.6 830.0,249.7 834.0,248.0 844.0,245.4 855.3,243.6Z"/>
<path fill="#8bd646" d="M856.0,245.5 890.0,244.4 910.0,245.0 914.0,245.6 918.0,246.9 921.9,249.6 923.5,251.6 924.9,255.6 924.4,263.6 919.6,281.6 917.8,285.6 913.5,289.6 906.0,293.3 904.0,293.6 902.0,295.2 899.6,295.6 898.0,296.8 896.0,297.4 892.9,297.6 890.0,299.3 888.0,299.5 866.0,300.8 854.0,300.5 832.0,294.1 827.8,291.6 824.3,287.6 822.9,283.6 823.4,273.6 825.6,261.6 828.0,254.8 831.6,251.6 836.6,249.6 846.0,247.1 855.0,245.6Z"/>
<path fill="#addc30" d="M856.0,247.6 860.0,246.3 872.0,245.9 904.0,247.5 910.0,248.2 914.0,249.4 917.4,251.6 918.9,253.6 919.7,255.6 919.8,259.6 917.6,275.6 916.0,279.5 915.9,281.6 913.9,285.6 908.0,291.0 902.0,294.5 898.1,295.6 896.0,296.9 892.0,297.3 890.0,298.4 886.0,299.2 854.0,299.1 852.0,298.6 850.6,297.6 846.0,297.2 843.9,295.6 840.0,294.9 830.0,289.6 826.8,285.6 826.2,283.6 826.0,279.4 824.8,275.6 825.1,269.6 826.0,267.9 826.7,263.6 830.0,259.6 831.8,255.6 834.3,253.6 842.0,250.1 850.0,247.8 855.9,247.6Z"/>
<path fill="#cde11d" d="M860.0,247.1 866.0,246.5 876.0,246.4 880.0,246.7 884.0,247.7 892.0,248.1 894.0,249.4 898.0,249.7 910.0,252.5 912.0,253.6 913.5,255.6 914.0,261.9 915.7,265.6 916.4,271.6 915.1,281.6 912.8,285.6 908.0,290.3 904.0,292.8 896.0,296.4 884.0,298.9 856.0,298.8 852.0,297.6 846.0,296.6 844.8,295.6 842.0,294.9 838.0,293.0 832.0,288.9 829.0,285.6 826.8,281.6 825.7,273.6 826.8,265.6 828.7,261.6 836.0,254.1 837.9,253.6 840.0,252.0 842.0,251.7 844.0,250.2 847.8,249.6 850.0,248.4 858.6,247.6Z"/>
<path fill="#efe51c" d="M862.0,247.4 868.0,246.9 878.0,247.1 890.0,248.4 894.0,250.0 898.0,250.4 900.0,251.9 902.0,252.1 904.0,253.8 906.0,254.3 913.1,261.6 915.0,265.6 915.7,273.6 915.0,279.6 912.0,285.4 907.9,289.6 900.0,294.4 894.0,296.5 886.0,298.3 860.0,298.7 856.0,298.4 848.0,296.6 838.0,292.5 831.7,287.6 827.6,281.6 826.4,275.6 826.9,267.6 827.3,265.6 829.3,261.6 832.0,258.5 836.0,254.8 844.0,250.8 852.0,248.5 861.0,247.6Z"/>
<path fill="#fde725" d="M866.0,247.5 876.0,247.5 888.0,248.6 898.0,251.2 902.0,252.8 908.0,256.8 912.2,261.6 914.2,265.6 915.2,271.6 914.5,279.6 912.7,283.6 910.0,287.1 904.0,291.9 900.0,294.0 894.0,296.1 884.0,298.2 860.0,298.4 848.0,296.2 842.0,294.1 834.7,289.6 830.0,284.6 827.5,279.6 826.8,271.6 827.8,265.6 829.9,261.6 834.0,257.0 840.0,253.0 846.0,250.7 852.0,249.0 864.8,247.6Z"/>
</g>
<g clip-path="url(#cpc)"><rect x="99.8" y="403.75" width="425.2" height="229.2" fill="#460a5d"/>
<path fill="#481c6e" d="M343.8,404.4 345.8,401.8 527.8,401.8 527.8,635.8 218.4,635.8 218.3,579.8 217.3,571.8 213.8,555.8 211.8,551.8 208.4,547.8 197.8,539.1 195.0,535.8 193.2,531.8 191.8,523.8 190.4,509.8 190.5,497.8 192.4,481.8 194.3,475.8 198.1,471.8 203.8,468.7 213.8,465.6 227.8,462.9 233.8,460.3 239.6,455.8 242.4,451.8 245.8,448.3 251.8,444.7 261.8,441.0 277.8,437.9 283.7,435.8 290.0,431.8 295.8,425.8 299.8,423.0 307.8,419.6 331.8,411.8 342.9,405.8Z"/>
<path fill="#472d7b" d="M391.8,405.3 399.9,401.8 527.8,401.8 527.8,635.8 235.2,635.8 235.2,581.8 234.0,571.8 231.0,561.8 227.8,553.8 216.0,539.8 212.3,533.8 209.9,519.8 208.9,507.8 209.3,499.8 211.4,489.8 215.5,479.8 219.8,475.6 240.6,465.8 251.8,459.5 263.2,451.8 267.8,449.4 290.3,441.8 321.8,427.4 347.8,416.9 363.8,412.0 390.7,405.8Z"/>
<path fill="#443b84" d="M425.8,409.7 437.8,409.9 459.8,411.5 475.8,413.3 489.8,415.5 503.8,419.1 523.8,428.6 527.8,429.2 527.8,635.8 245.4,635.8 245.4,581.8 244.0,569.8 239.6,553.8 235.9,547.8 227.5,537.8 225.3,533.8 224.9,531.8 224.9,505.8 225.5,499.8 228.2,491.8 234.4,479.8 238.7,475.8 244.8,471.8 275.8,454.2 345.8,426.6 363.8,420.9 383.8,416.3 424.6,409.8Z"/>
<path fill="#3e4a89" d="M403.8,421.7 423.8,420.1 431.8,420.2 453.8,424.1 469.8,427.8 487.8,433.3 503.7,439.8 514.6,445.8 523.8,453.5 527.8,454.7 527.8,635.8 253.9,635.8 253.9,581.8 253.0,571.8 249.1,553.8 246.4,547.8 239.6,535.8 238.5,531.8 239.0,523.8 240.4,515.8 247.2,487.8 249.2,481.8 251.4,477.8 258.6,471.8 275.8,461.7 323.8,441.5 343.8,434.7 367.8,427.3 389.8,422.9 402.3,421.8Z"/>
<path fill="#38598c" d="M391.8,429.7 399.8,429.2 423.8,429.2 431.8,429.8 459.8,437.2 477.8,443.0 489.8,448.1 498.8,453.8 505.3,459.8 519.8,475.8 523.8,479.2 527.8,480.1 527.8,635.8 260.5,635.8 260.2,575.8 256.7,553.8 250.5,535.8 249.9,529.8 250.6,523.8 253.8,509.7 257.0,491.8 258.7,485.8 261.4,479.8 267.3,473.8 280.2,465.8 323.8,447.0 341.8,441.0 363.8,434.9 373.8,432.6 391.8,429.8Z"/>
<path fill="#31668e" d="M379.8,437.7 399.8,435.8 427.8,437.3 437.8,439.8 469.3,451.8 477.8,456.4 485.8,462.4 490.8,467.8 501.8,482.2 507.8,487.5 518.6,495.8 523.8,501.6 526.9,503.8 527.8,505.8 527.8,635.8 266.5,635.8 266.3,577.8 263.4,555.8 259.1,535.8 258.7,529.8 259.6,519.8 262.8,497.8 265.1,489.8 267.8,484.2 271.8,478.7 277.5,473.8 283.8,469.5 291.8,465.6 307.7,459.8 325.4,451.8 337.8,447.1 363.8,440.3 379.3,437.8Z"/>
<path fill="#2c728e" d="M397.8,441.7 413.8,442.4 425.8,444.1 431.8,445.6 441.1,449.8 467.8,464.3 473.8,468.5 477.8,472.4 480.4,475.8 487.8,488.0 498.9,501.8 500.0,505.8 500.0,635.8 272.1,635.8 271.9,577.8 266.4,537.8 266.0,529.8 267.7,501.8 269.8,493.8 272.9,487.8 280.9,477.8 288.9,471.8 295.8,468.6 315.4,461.8 337.8,451.8 347.8,448.8 367.8,444.3 396.4,441.8Z"/>
<path fill="#277e8e" d="M385.8,447.7 399.8,447.0 407.8,447.4 419.8,449.5 429.8,452.7 438.4,457.8 460.3,473.8 464.4,477.8 468.2,483.8 472.6,493.8 474.7,501.8 475.3,533.8 476.6,537.8 481.2,547.8 482.8,553.8 483.0,635.8 277.4,635.8 277.2,577.8 272.6,539.8 272.1,531.8 272.5,503.8 273.8,497.8 276.5,491.8 280.4,485.8 285.8,479.5 290.5,475.8 295.8,472.9 318.3,465.8 325.8,462.5 335.8,457.3 345.8,453.6 367.8,448.9 384.7,447.8Z"/>
<path fill="#238a8d" d="M363.8,453.7 373.8,452.6 401.8,452.2 409.8,453.2 418.4,455.8 429.8,461.3 438.3,467.8 448.2,477.8 456.2,489.8 458.9,495.8 460.4,501.8 460.8,533.8 461.8,540.3 465.2,551.8 465.9,555.8 465.9,635.8 281.5,635.8 281.4,577.8 277.1,531.8 277.1,503.8 279.2,495.8 282.5,489.8 285.8,485.5 291.8,479.9 295.8,477.4 301.8,475.0 321.8,469.5 325.8,467.8 337.8,460.7 343.8,458.3 363.8,453.8Z"/>
<path fill="#1f968b" d="M363.8,457.6 373.8,456.6 401.8,457.2 407.8,458.2 413.8,460.3 423.7,465.8 431.8,472.1 438.2,479.8 446.9,493.8 449.2,499.8 450.0,505.8 450.0,635.8 285.3,635.8 285.1,575.8 280.6,531.8 280.8,503.8 283.1,495.8 285.4,491.8 288.6,487.8 293.2,483.8 297.8,480.9 303.8,478.7 317.8,475.6 323.8,473.7 327.8,471.6 337.8,464.8 343.8,462.0 349.8,460.3 363.0,457.8Z"/>
<path fill="#1fa287" d="M359.8,461.7 371.8,460.2 383.8,460.4 401.8,462.0 409.8,464.5 417.8,469.1 425.5,475.8 433.0,485.8 437.6,493.8 440.4,501.8 440.8,507.8 441.0,533.8 439.8,555.8 439.8,635.8 322.1,635.8 321.9,561.8 321.5,555.8 319.8,553.0 318.4,557.8 317.7,565.8 317.5,635.8 289.2,635.8 289.0,575.8 287.1,555.8 284.4,541.8 283.5,531.8 283.9,505.8 284.4,501.8 285.8,497.8 287.9,493.8 291.2,489.8 297.8,484.9 303.8,482.7 317.8,480.0 323.8,478.3 327.8,476.3 336.2,469.8 341.8,466.3 347.8,464.0 359.3,461.8Z"/>
<path fill="#28ae80" d="M367.8,463.7 377.8,463.4 389.8,464.5 401.8,466.6 407.8,468.9 413.8,472.6 419.4,477.8 426.8,487.8 431.1,495.8 433.3,503.8 433.7,525.8 433.5,535.8 431.9,555.8 431.9,635.8 325.0,635.8 324.7,555.8 322.5,549.8 321.8,548.6 319.8,547.6 317.8,550.3 316.5,553.8 315.1,565.8 314.6,635.8 294.1,635.8 293.8,575.8 291.2,555.8 287.4,541.8 286.2,531.8 286.9,505.8 288.2,499.8 290.3,495.8 293.5,491.8 299.8,487.4 305.8,485.6 319.8,483.3 325.8,481.7 329.8,479.1 339.8,470.9 345.8,467.8 355.8,465.5 367.4,463.8Z"/>
<path fill="#38b977" d="M361.8,467.5 371.8,466.5 381.8,466.8 393.8,468.8 403.8,471.7 409.8,475.1 415.8,480.5 421.3,487.8 425.3,495.8 427.4,503.8 427.6,531.8 425.0,555.8 425.0,635.8 332.4,635.8 332.4,605.8 331.6,585.8 331.4,555.8 330.3,553.8 325.8,549.4 321.8,544.4 319.8,543.9 317.8,546.2 311.8,557.0 309.8,558.6 303.8,559.9 299.8,559.4 297.8,557.3 291.8,545.7 289.9,539.8 288.9,533.8 288.9,517.8 290.0,503.8 291.4,499.8 293.8,495.8 298.0,491.8 303.8,489.0 321.8,486.0 327.8,484.0 331.3,481.8 339.8,474.4 345.8,470.9 349.8,469.6 360.0,467.8Z"/>
<path fill="#50c46a" d="M367.8,469.7 377.8,469.5 385.8,470.5 395.8,473.0 403.8,476.0 409.8,480.0 415.8,485.7 418.7,489.8 421.3,495.8 423.0,503.8 423.0,517.8 422.7,533.8 420.0,555.8 420.0,635.8 339.3,635.8 339.3,605.8 337.6,585.8 337.4,555.8 336.4,553.8 332.7,549.8 325.8,544.7 321.8,540.7 319.8,540.5 313.8,549.1 311.8,550.5 309.8,551.1 305.8,551.2 301.8,550.4 297.8,548.3 294.5,543.8 292.8,539.8 291.7,535.8 291.2,529.8 291.2,519.8 292.0,509.8 293.5,501.8 295.8,497.8 297.8,495.5 301.8,492.7 305.8,491.2 321.8,488.7 327.8,486.9 332.8,483.8 341.8,476.3 347.8,473.1 367.3,469.8Z"/>
<path fill="#6ccd5a" d="M359.8,473.7 371.8,472.4 379.8,472.6 387.8,474.1 397.8,477.5 405.8,481.2 411.8,485.6 415.8,490.3 418.5,495.8 420.3,503.8 420.3,511.8 419.2,533.8 416.1,555.8 416.1,635.8 345.8,635.8 345.7,605.8 342.9,585.8 342.7,555.8 339.4,551.8 321.8,537.1 319.8,537.2 313.8,545.7 311.8,546.9 307.8,547.4 303.8,546.7 299.8,544.9 296.9,541.8 294.9,537.8 293.9,533.8 293.4,527.8 294.0,513.8 295.6,503.8 297.6,499.8 299.3,497.8 303.8,494.7 307.8,493.3 325.8,490.4 331.8,487.1 345.8,477.0 349.8,475.6 359.4,473.8Z"/>
<path fill="#8bd646" d="M367.8,475.7 375.8,475.4 381.8,476.0 389.8,478.1 401.8,482.5 407.8,485.7 411.8,489.1 415.1,493.8 416.8,497.8 418.1,505.8 417.4,521.8 416.2,533.8 412.3,555.8 412.3,635.8 353.8,635.8 353.8,598.7 350.0,583.8 349.7,555.8 337.8,547.2 329.8,539.5 321.8,532.9 319.8,533.5 315.8,540.4 313.8,542.9 309.8,544.4 305.8,544.0 301.2,541.8 297.8,537.8 296.3,533.8 295.4,523.8 296.5,511.8 298.4,503.8 299.8,501.1 301.8,499.0 305.8,496.6 309.8,495.3 319.8,494.3 325.8,493.1 329.8,491.0 341.8,482.6 347.8,479.2 355.8,477.4 367.0,475.8Z"/>
<path fill="#addc30" d="M361.8,479.6 371.8,478.6 379.8,478.9 385.8,480.2 401.8,485.3 405.8,487.2 409.8,490.3 412.6,493.8 415.3,499.8 416.1,507.8 414.9,523.8 413.1,535.8 408.8,551.8 408.2,555.8 408.2,635.8 354.2,635.8 353.8,552.1 347.8,550.5 339.8,546.1 335.1,541.8 327.8,533.0 321.8,527.4 319.8,528.5 315.8,537.7 313.8,540.2 311.8,541.4 307.8,541.7 303.8,540.1 301.0,537.8 298.7,533.8 297.5,525.8 298.0,515.8 300.3,505.8 301.8,502.9 303.8,500.7 305.8,499.4 309.8,497.8 321.8,496.9 325.8,495.9 345.8,483.0 349.8,481.7 360.6,479.8Z"/>
<path fill="#cde11d" d="M355.8,483.5 367.8,482.1 377.8,481.9 385.8,483.3 399.8,487.2 403.8,488.7 408.2,491.8 411.4,495.8 413.8,501.8 414.2,505.8 413.6,515.8 410.3,535.8 405.8,547.6 401.8,554.3 400.1,555.8 399.8,557.7 397.2,555.8 381.8,553.3 381.6,635.8 354.6,635.8 354.5,555.8 353.8,549.1 345.8,547.3 339.8,543.6 334.4,537.8 327.8,525.8 325.8,524.3 321.8,524.2 319.8,525.3 318.3,527.8 315.8,534.8 313.8,537.6 311.8,538.9 307.8,539.1 303.8,537.0 301.3,533.8 300.0,529.8 299.4,521.8 300.3,513.8 303.1,505.8 305.8,502.5 307.8,501.2 311.8,500.1 321.8,500.3 325.8,499.2 337.8,490.3 343.8,486.5 347.8,484.8 353.9,483.8Z"/>
<path fill="#efe51c" d="M359.8,485.7 371.8,484.8 379.8,485.0 387.8,486.5 401.8,490.2 405.8,492.5 409.0,495.8 411.2,499.8 412.2,503.8 411.8,513.8 409.8,525.9 407.4,535.8 403.8,542.9 401.8,545.2 397.8,547.1 389.8,548.7 381.8,549.2 381.6,549.8 381.1,555.8 381.1,635.8 355.0,635.8 354.9,555.8 354.5,549.8 353.8,546.8 345.8,545.2 341.8,542.9 338.4,539.8 334.4,533.8 329.8,520.2 327.8,516.2 325.8,513.9 323.8,516.6 322.4,519.8 317.8,525.4 314.6,533.8 311.8,536.4 309.8,536.8 307.8,536.5 305.8,535.4 304.1,533.8 302.1,529.8 301.3,525.8 301.3,519.8 302.3,513.8 304.9,507.8 307.8,504.5 309.8,503.5 313.8,503.1 317.1,503.8 323.8,506.9 332.0,497.8 341.8,490.0 347.8,487.3 358.9,485.8Z"/>
<path fill="#fde725" d="M367.8,487.7 375.8,487.5 381.8,488.0 401.8,492.6 405.8,495.2 407.8,497.5 409.0,499.8 410.2,503.8 410.0,511.8 408.7,519.8 405.6,531.8 402.8,537.8 399.8,540.8 395.8,543.0 389.8,545.0 381.8,546.2 381.2,547.8 380.5,555.8 380.5,635.8 355.4,635.8 355.3,555.8 354.9,547.8 353.8,544.7 347.8,543.9 343.8,542.1 340.9,539.8 337.7,535.8 336.0,531.8 331.0,509.8 330.8,505.8 332.1,501.8 335.3,497.8 341.8,492.4 345.8,490.3 349.8,489.2 366.6,487.8ZM309.8,507.2 311.8,506.8 313.8,507.1 315.8,508.3 318.4,511.8 319.3,515.8 318.9,519.8 314.7,529.8 313.8,531.8 311.8,533.7 309.8,534.1 308.2,533.8 305.8,532.1 303.8,528.1 303.0,523.8 303.4,517.8 304.5,513.8 305.8,510.9 308.9,507.8Z"/>
</g>
<g clip-path="url(#cpd)"><rect x="684" y="403.75" width="425" height="229.2" fill="#460a5d"/>
<path fill="#481c6e" d="M928.0,403.6 929.8,401.8 1112.0,401.8 1112.0,635.8 750.1,635.8 749.9,631.8 744.0,593.8 740.7,579.8 735.1,563.8 734.0,557.8 734.2,527.8 736.6,519.8 741.1,511.8 747.8,503.8 752.0,500.1 766.0,492.8 774.0,487.8 794.0,472.0 802.0,468.1 812.0,465.1 817.9,461.8 822.0,457.8 828.0,449.8 832.0,446.7 838.0,444.0 844.0,442.2 868.0,437.8 876.2,435.8 886.0,432.4 889.9,429.8 894.0,425.3 898.4,421.8 914.0,413.8 926.3,405.8Z"/>
<path fill="#472d7b" d="M976.0,405.1 984.0,401.8 1112.0,401.8 1112.0,635.8 766.0,635.8 765.7,631.8 758.6,605.8 753.3,581.8 748.2,567.8 746.4,559.8 745.9,529.8 747.4,523.8 751.4,517.8 756.0,513.8 766.2,507.8 778.0,498.8 792.0,489.7 806.0,478.7 823.0,469.8 842.0,456.5 848.0,452.9 858.0,448.9 884.0,442.1 890.4,439.8 898.3,435.8 926.0,418.9 934.0,415.2 942.0,412.9 974.5,405.8Z"/>
<path fill="#443b84" d="M1018.0,405.5 1034.0,401.8 1084.0,401.8 1100.0,408.7 1108.0,413.8 1112.0,414.7 1112.0,635.8 776.0,635.8 775.8,631.8 774.0,622.5 766.0,585.8 764.0,579.8 756.5,565.8 754.8,559.8 754.3,529.8 755.6,525.8 758.0,522.7 761.8,519.8 778.0,510.3 788.9,501.8 812.0,485.1 831.5,473.8 850.0,462.0 860.0,456.8 892.0,445.4 916.9,433.8 930.0,426.6 938.0,423.4 992.0,410.2 1016.9,405.8Z"/>
<path fill="#3e4a89" d="M1044.0,407.5 1056.0,406.3 1064.0,406.4 1074.0,407.8 1086.0,410.9 1092.0,413.2 1098.0,416.6 1104.0,421.8 1108.0,427.3 1112.0,429.2 1112.0,635.8 784.0,635.8 782.0,619.6 775.8,583.8 772.9,575.8 766.3,563.8 764.5,557.8 765.4,531.8 766.0,529.4 768.9,525.8 818.0,488.9 834.7,479.8 854.0,467.6 864.0,462.5 886.0,453.8 932.0,433.9 942.0,430.3 1007.0,413.8 1022.0,410.8 1042.1,407.8Z"/>
<path fill="#38598c" d="M1050.0,411.7 1060.0,411.1 1070.0,412.4 1080.3,415.8 1090.0,420.4 1096.7,425.8 1101.4,431.8 1105.8,439.8 1108.0,446.5 1111.5,451.8 1112.0,455.8 1111.8,481.8 1110.2,485.8 1108.0,488.8 1105.4,503.8 1106.0,553.8 1106.0,635.8 790.4,635.8 786.0,595.0 784.3,583.8 782.8,577.8 776.4,561.8 775.6,555.8 776.8,541.8 779.7,529.8 783.9,523.8 792.0,515.2 818.0,495.1 824.0,491.1 838.6,483.8 854.0,474.3 864.0,468.9 888.0,458.9 908.0,449.5 938.0,438.2 950.0,434.4 1017.0,417.8 1049.6,411.8Z"/>
<path fill="#31668e" d="M1046.0,417.5 1056.0,416.2 1064.0,416.6 1072.0,418.7 1078.6,421.8 1087.8,427.8 1093.9,433.8 1098.3,439.8 1101.8,447.8 1102.7,453.8 1102.0,474.8 1101.1,483.8 1098.0,499.8 1097.6,505.8 1098.3,531.8 1099.6,553.8 1099.7,635.8 795.6,635.8 790.8,581.8 785.0,563.8 784.0,555.8 785.0,543.8 787.8,529.8 789.5,525.8 792.1,521.8 797.8,515.8 810.0,507.5 820.0,498.9 828.0,493.6 844.5,485.8 870.0,471.6 908.0,455.1 946.0,440.9 954.0,438.4 994.3,429.8 1024.0,422.3 1044.6,417.8Z"/>
<path fill="#2c728e" d="M1054.0,421.6 1060.0,421.3 1066.0,422.3 1072.0,424.7 1077.0,427.8 1086.0,434.9 1090.6,439.8 1094.4,445.8 1096.3,451.8 1096.4,457.8 1095.6,467.8 1089.6,497.8 1088.9,505.8 1089.5,531.8 1092.0,548.3 1092.6,555.8 1092.6,635.8 800.3,635.8 798.1,611.8 796.6,581.8 795.7,577.8 790.5,563.8 789.5,555.8 790.4,543.8 792.7,529.8 795.5,523.8 801.0,517.8 814.0,508.8 824.0,500.4 830.0,496.7 848.0,488.6 876.0,474.0 904.0,461.8 928.0,453.9 948.0,445.2 958.0,442.0 978.0,437.3 1010.7,431.8 1044.0,423.4 1052.5,421.8Z"/>
<path fill="#277e8e" d="M1050.0,427.6 1056.0,426.7 1062.0,426.8 1066.0,427.8 1072.0,430.8 1078.6,435.8 1084.7,441.8 1088.0,446.5 1090.0,451.8 1090.1,457.8 1089.3,463.8 1084.1,479.8 1080.3,495.8 1079.3,503.8 1078.0,525.8 1078.2,533.8 1083.1,549.8 1084.0,555.8 1084.0,635.8 804.7,635.8 802.6,611.8 801.9,581.8 800.9,577.8 794.9,563.8 793.8,555.8 794.6,543.8 796.8,529.8 799.8,523.8 804.0,519.3 830.0,500.5 852.0,491.1 878.4,477.8 904.0,466.5 932.0,458.5 952.0,448.7 968.0,443.7 982.0,440.6 1020.0,435.2 1035.9,431.8 1049.4,427.8ZM1009.9,505.8 1008.0,506.1 1005.5,511.8 1003.8,519.8 1003.0,531.8 1004.0,543.8 1006.0,552.2 1008.0,556.0 1010.0,556.3 1012.0,554.6 1013.8,551.8 1016.0,546.6 1018.0,538.6 1018.7,531.8 1018.1,521.8 1016.4,513.8 1014.0,508.8 1012.0,506.7 1010.0,505.7Z"/>
<path fill="#238a8d" d="M1058.0,431.7 1062.0,432.0 1066.0,433.1 1070.0,435.0 1074.0,437.8 1078.1,441.8 1081.1,445.8 1083.1,449.8 1084.0,453.8 1083.8,457.8 1082.5,463.8 1079.9,469.8 1075.5,477.8 1073.5,483.8 1067.3,513.8 1064.0,522.2 1060.0,529.6 1059.4,529.8 1059.0,531.8 1060.0,531.9 1064.0,535.9 1070.0,543.3 1072.5,547.8 1074.4,553.8 1074.7,635.8 809.0,635.8 806.9,611.8 806.7,581.8 805.7,577.8 799.5,565.8 797.5,557.8 797.9,547.8 799.1,537.8 800.5,529.8 802.4,525.8 808.0,519.8 826.0,506.8 832.0,503.1 860.5,491.8 902.0,471.8 908.0,469.9 934.0,463.6 942.0,460.1 956.0,452.6 969.8,447.8 982.0,444.8 1022.0,440.1 1036.0,437.3 1050.0,432.9 1057.8,431.8ZM1005.8,489.8 1004.0,491.6 1002.0,495.1 1000.5,499.8 999.5,505.8 997.6,527.8 998.5,549.8 1000.2,563.8 1002.0,571.4 1004.0,576.7 1006.0,580.1 1008.0,581.8 1010.0,581.9 1014.0,579.3 1018.0,573.9 1023.2,563.8 1025.4,557.8 1030.0,540.9 1032.0,535.0 1033.9,531.8 1034.0,505.8 1033.7,503.8 1031.0,499.8 1026.5,495.8 1023.4,493.8 1018.0,490.9 1012.0,488.8 1008.0,488.6 1006.0,489.5Z"/>
<path fill="#1f968b" d="M1050.0,437.5 1058.0,436.2 1064.0,436.9 1070.0,440.0 1075.6,445.8 1078.3,451.8 1078.4,457.8 1076.0,465.2 1072.0,471.0 1068.0,474.9 1062.0,479.2 1060.0,480.0 1054.0,480.2 1032.0,479.9 1028.0,478.4 1019.9,473.8 1014.0,471.2 1010.0,470.5 1006.0,470.9 1002.0,473.1 998.7,477.8 996.4,485.8 994.8,497.8 993.0,527.8 993.4,547.8 995.1,571.8 996.9,583.8 998.8,591.8 1002.8,601.8 1006.0,606.1 1008.0,607.3 1034.0,607.8 1034.0,635.8 812.7,635.8 811.1,611.8 811.0,581.8 810.0,577.4 804.3,567.8 801.7,561.8 801.0,557.8 801.3,547.8 803.6,531.8 806.2,525.8 809.9,521.8 817.3,515.8 824.0,511.1 832.0,506.5 866.2,493.8 902.0,476.7 908.0,474.8 928.0,470.9 936.0,468.8 942.0,466.5 956.0,459.7 976.0,451.4 982.0,449.9 992.0,448.6 1010.0,447.8 1020.0,446.6 1036.0,443.0 1049.2,437.8Z"/>
<path fill="#1fa287" d="M1052.0,441.5 1056.0,440.6 1060.0,440.5 1064.7,441.8 1068.0,443.7 1070.2,445.8 1072.0,448.2 1073.5,451.8 1073.6,457.8 1071.1,463.8 1067.4,467.8 1062.0,470.7 1058.0,471.1 1052.0,470.5 1044.0,467.8 1038.7,463.8 1034.6,457.8 1034.2,453.8 1035.8,451.8 1043.2,445.8 1051.3,441.8ZM966.0,465.6 970.0,465.4 974.0,466.0 977.4,467.8 979.2,469.8 981.4,473.8 986.0,485.7 987.7,493.8 988.5,503.8 987.9,535.8 989.1,583.8 991.4,611.8 994.9,635.8 815.9,635.8 814.7,611.8 814.3,579.8 812.0,574.2 805.9,563.8 804.3,557.8 804.8,545.8 807.1,531.8 808.6,527.8 811.6,523.8 820.9,515.8 832.0,509.3 872.4,495.8 886.0,490.4 904.0,481.6 910.0,480.0 936.0,475.5 944.0,472.8 956.0,467.8 964.4,465.8Z"/>
<path fill="#28ae80" d="M1056.0,445.5 1060.0,445.3 1064.0,446.7 1066.0,448.3 1068.3,451.8 1068.8,455.8 1067.4,459.8 1066.0,461.8 1062.0,464.5 1058.0,465.0 1052.6,463.8 1049.3,461.8 1046.2,457.8 1045.7,453.8 1046.5,451.8 1050.5,447.8 1055.1,445.8ZM944.0,480.9 948.0,480.2 954.0,480.8 960.0,480.3 962.0,481.1 964.0,483.0 966.0,486.2 968.4,491.8 973.5,505.8 975.6,513.8 977.1,525.8 977.3,547.8 977.2,585.8 975.8,635.8 818.8,635.8 817.9,609.8 817.6,581.8 815.8,575.8 809.2,563.8 807.5,557.8 807.8,547.8 809.3,537.8 811.1,529.8 813.3,525.8 816.9,521.8 822.0,517.5 828.0,513.7 834.0,511.0 886.8,495.8 908.0,487.2 916.0,486.1 936.0,484.9 938.0,484.4 942.5,481.8Z"/>
<path fill="#38b977" d="M946.0,483.6 948.0,483.8 950.0,485.0 952.7,489.8 954.0,507.8 956.0,518.2 957.8,523.8 959.0,529.8 959.0,635.8 821.7,635.8 820.6,581.8 819.5,577.8 812.1,563.8 810.5,557.8 811.3,543.8 814.1,529.8 816.3,525.8 820.0,521.8 828.0,516.0 834.0,513.2 842.0,510.7 890.0,500.1 908.0,495.0 914.0,494.4 920.0,494.6 927.6,495.8 936.0,497.8 938.0,496.9 940.8,487.8 944.0,484.3 945.7,483.8Z"/>
<path fill="#50c46a" d="M946.0,485.2 948.0,485.6 950.0,487.4 951.1,489.8 951.4,491.8 952.9,529.8 952.5,635.8 940.1,635.8 940.0,574.9 938.0,550.6 936.0,551.3 934.0,556.6 930.0,569.4 928.3,577.8 928.0,635.8 824.9,635.8 823.6,581.8 822.4,577.8 815.4,565.8 813.8,561.8 812.9,557.8 813.8,543.8 816.8,529.8 819.2,525.8 822.0,522.8 830.0,517.1 840.0,513.4 852.0,510.5 878.0,506.4 910.0,502.3 918.0,503.2 924.0,505.7 929.5,509.8 936.0,517.4 938.0,518.0 940.0,508.6 941.2,491.8 942.6,487.8 944.9,485.8Z"/>
<path fill="#6ccd5a" d="M944.0,487.7 946.0,486.5 948.0,487.0 950.0,489.8 950.4,491.8 951.4,529.8 951.2,635.8 941.5,635.8 941.5,577.8 940.6,527.8 942.4,491.8 942.8,489.8 943.9,487.8ZM874.0,509.6 898.0,508.1 908.0,508.2 914.0,509.0 918.0,510.5 922.9,513.8 926.2,517.8 928.2,521.8 930.0,529.8 929.6,537.8 922.4,573.8 921.6,579.8 921.6,635.8 828.4,635.8 828.1,603.8 826.9,581.8 825.4,577.8 817.6,565.8 815.9,561.8 815.1,557.8 815.8,545.8 818.7,531.8 820.5,527.8 823.9,523.8 829.3,519.8 834.0,517.4 842.0,514.7 850.0,512.8 873.0,509.8Z"/>
<path fill="#8bd646" d="M946.0,487.7 948.0,488.3 949.0,489.8 949.4,491.8 950.2,519.8 950.1,635.8 942.6,635.8 942.1,523.8 943.3,491.8 944.0,489.3 945.8,487.8ZM876.0,511.6 886.0,511.0 896.0,511.1 906.0,512.1 912.0,513.3 916.0,515.0 919.5,517.8 922.4,521.8 924.0,525.8 924.7,529.8 924.3,537.8 917.2,573.8 916.5,579.8 916.4,635.8 834.0,635.8 833.9,603.8 831.0,581.8 828.8,577.8 820.0,566.2 818.0,561.8 817.1,557.8 817.9,545.8 820.6,533.8 822.0,529.8 824.9,525.8 829.8,521.8 834.0,519.5 842.0,516.6 850.0,514.5 874.4,511.8Z"/>
<path fill="#addc30" d="M946.0,488.9 948.0,489.7 948.6,491.8 949.3,519.8 949.2,635.8 943.5,635.8 943.0,527.8 944.0,494.7 944.2,491.8 945.0,489.8ZM876.0,513.6 886.0,513.2 894.0,513.5 902.0,514.6 910.0,516.7 914.0,518.8 916.0,520.5 918.4,523.8 920.0,527.8 920.4,531.8 919.6,539.8 912.8,571.8 911.6,579.8 911.5,635.8 846.2,635.8 846.0,593.2 840.0,584.2 839.8,635.8 836.3,635.8 836.0,579.4 830.0,575.1 826.0,571.2 822.0,565.9 820.0,561.8 819.1,557.8 819.2,551.8 820.3,543.8 822.0,536.9 824.0,531.3 826.1,527.8 830.5,523.8 836.0,520.8 844.0,517.8 852.0,515.9 874.3,513.8Z"/>
<path fill="#cde11d" d="M946.0,490.6 947.1,491.8 948.0,501.1 948.6,523.8 948.4,635.8 944.5,635.8 943.9,529.8 945.5,491.8ZM874.0,515.7 890.0,515.4 902.0,517.5 907.8,519.8 911.3,521.8 914.0,524.6 915.6,527.8 916.1,531.8 915.6,537.8 910.0,563.1 909.7,635.8 847.0,635.8 847.0,597.8 846.4,579.8 846.0,578.2 840.0,576.3 839.5,591.8 839.4,635.8 836.7,635.8 836.6,587.8 836.1,575.8 836.0,574.9 832.0,573.2 828.0,570.2 824.2,565.8 822.1,561.8 821.1,557.8 821.1,553.8 822.0,545.8 823.5,539.8 826.0,532.9 828.0,529.2 831.5,525.8 836.0,523.1 843.9,519.8 852.0,517.6 872.7,515.8Z"/>
<path fill="#efe51c" d="M946.0,506.6 947.5,529.8 946.5,579.8 946.5,635.8 945.8,635.8 945.2,533.8 945.9,507.8ZM872.0,517.7 888.0,517.3 898.0,519.1 904.0,521.6 907.3,523.8 910.0,526.5 911.5,529.8 911.3,535.8 910.0,542.5 909.6,555.8 909.2,635.8 847.8,635.8 847.6,577.8 847.3,575.8 846.0,574.2 840.0,573.6 839.1,581.8 839.0,635.8 837.1,635.8 836.9,581.8 836.4,573.8 828.0,567.2 825.3,563.8 823.5,559.8 822.7,549.8 823.0,547.8 824.0,545.8 824.5,539.8 826.1,537.8 826.4,535.8 832.0,528.6 840.0,523.5 846.0,521.0 852.0,519.3 870.4,517.8Z"/>
<path fill="#fde725" d="M870.0,519.7 886.0,519.3 892.0,520.0 897.7,521.8 901.4,523.8 903.8,525.8 908.0,526.4 909.3,527.8 908.8,635.8 848.5,635.8 848.5,573.8 848.0,571.6 846.0,573.0 840.0,573.1 839.1,573.8 838.6,635.8 837.4,635.8 837.0,573.8 826.6,563.8 826.2,561.8 824.7,559.8 823.8,549.8 825.2,539.8 826.7,537.8 827.0,535.8 828.6,533.8 834.0,528.2 836.0,527.0 840.5,525.8 846.0,523.1 852.0,521.2 858.0,520.3 868.5,519.8Z"/>
</g>
<g clip-path="url(#cpe)"><rect x="99.8" y="677.9" width="425.2" height="229.2" fill="#460a5d"/>
<path fill="#481c6e" d="M363.8,679.3 366.3,675.9 527.8,675.9 527.8,909.9 224.8,909.9 224.7,905.9 223.4,899.9 210.7,851.9 205.8,844.2 197.8,837.1 195.0,833.9 189.1,823.9 180.8,811.9 178.8,807.9 178.4,803.9 178.3,779.9 179.1,775.9 181.1,771.9 193.4,751.9 197.1,747.9 200.6,745.9 215.8,739.7 225.8,734.5 229.3,731.9 237.3,723.9 243.5,719.9 253.8,716.5 277.8,712.9 285.8,710.9 296.2,705.9 307.4,697.9 315.8,693.7 329.8,689.2 353.8,684.4 363.3,679.9Z"/>
<path fill="#472d7b" d="M413.8,679.4 424.9,675.9 527.8,675.9 527.8,909.9 240.0,909.9 239.7,903.9 237.8,892.6 234.7,879.9 232.6,873.9 222.0,849.9 209.8,826.4 202.4,813.9 200.1,807.9 199.8,779.9 200.6,775.9 203.0,771.9 207.2,767.9 219.8,758.6 247.8,735.3 255.8,730.0 261.8,726.9 270.1,723.9 287.8,719.4 298.8,715.9 307.8,712.2 321.8,704.8 329.8,701.3 337.8,698.6 355.8,693.6 373.8,687.0 389.8,683.1 412.2,679.9Z"/>
<path fill="#443b84" d="M445.8,687.9 455.8,688.2 473.8,691.0 501.8,693.8 511.8,696.8 523.8,702.6 527.8,703.4 527.8,909.9 249.9,909.9 248.3,895.9 243.8,876.0 234.4,851.9 225.3,831.9 219.3,813.9 217.9,805.9 218.9,795.9 223.0,783.9 226.8,775.9 230.5,769.9 239.7,757.9 247.3,749.9 253.8,744.5 261.8,739.0 271.8,733.2 281.8,728.7 303.8,721.2 323.8,712.5 337.8,707.2 369.8,697.1 389.8,692.6 397.8,691.5 445.0,687.9Z"/>
<path fill="#3e4a89" d="M395.8,699.8 433.8,699.1 445.8,699.6 455.8,700.9 473.8,705.7 493.8,709.7 503.8,712.8 513.9,717.9 519.1,721.9 523.8,727.1 527.8,728.9 527.8,909.9 257.2,909.9 255.8,893.9 252.4,875.9 236.3,831.9 232.1,817.9 230.6,809.9 230.5,801.9 232.1,793.9 238.0,777.9 242.3,769.9 248.5,761.9 259.8,751.1 271.8,742.0 283.8,734.6 302.3,727.9 323.8,718.8 341.8,712.2 369.8,704.5 394.8,699.9Z"/>
<path fill="#38598c" d="M387.8,707.7 399.8,706.8 427.8,707.1 439.8,708.4 453.8,710.9 479.5,717.9 489.8,721.5 497.2,725.9 499.2,727.9 502.0,731.9 505.0,737.9 512.9,757.9 523.8,775.5 527.0,777.9 527.8,779.9 527.8,855.9 523.8,856.4 519.8,859.4 517.8,862.1 515.4,867.9 512.0,883.9 509.7,891.9 505.8,899.9 501.1,905.9 500.0,909.9 263.1,909.9 261.0,887.9 257.8,869.9 251.8,849.3 241.7,819.9 239.4,809.9 239.1,803.9 240.4,795.9 244.4,783.9 248.8,773.9 254.5,765.9 259.8,760.4 281.3,741.9 287.8,737.7 293.8,735.3 307.8,730.9 331.8,721.1 343.8,716.8 365.8,711.1 386.6,707.9Z"/>
<path fill="#31668e" d="M383.8,713.9 397.8,712.8 419.8,713.0 429.8,713.6 439.8,715.6 459.8,721.9 467.8,725.0 473.6,727.9 480.5,733.9 485.7,741.9 497.1,767.9 499.6,775.9 500.0,779.9 500.0,829.9 498.8,835.9 493.2,845.9 490.2,853.9 487.9,875.9 484.0,895.9 483.1,909.9 268.8,909.9 265.9,881.9 262.5,861.9 256.8,839.9 253.6,829.9 248.3,815.9 246.6,807.9 246.6,801.9 248.3,793.9 253.2,779.9 255.9,773.9 260.0,767.9 263.8,763.8 275.8,753.4 283.8,745.0 287.8,742.0 291.8,739.8 313.8,733.0 337.8,723.7 347.8,720.4 367.8,715.7 383.5,713.9Z"/>
<path fill="#2c728e" d="M371.8,719.7 395.8,718.2 411.8,718.3 427.8,719.3 437.8,722.1 445.3,725.9 451.6,729.9 457.2,733.9 463.9,739.9 471.8,749.6 479.8,761.4 483.5,767.9 485.7,773.9 486.5,779.9 486.5,807.9 485.6,817.9 481.5,835.9 474.4,857.9 469.2,869.9 466.6,877.9 463.2,899.9 462.5,909.9 274.9,909.9 270.2,869.9 267.5,853.9 262.2,833.9 255.0,815.9 253.1,807.9 253.2,801.9 254.1,795.9 260.5,775.9 263.8,770.6 267.8,766.0 277.8,757.1 285.8,747.8 291.8,743.3 297.8,740.8 322.9,733.9 345.8,725.5 361.8,721.4 370.2,719.9Z"/>
<path fill="#277e8e" d="M383.8,723.9 401.8,723.4 413.8,723.9 425.8,725.3 433.1,727.9 440.6,733.9 457.1,753.9 468.6,765.9 471.8,770.2 474.4,775.9 475.0,779.9 475.0,805.9 473.8,813.5 464.8,835.9 449.2,883.9 441.3,905.9 440.9,909.9 281.9,909.9 276.1,863.9 273.6,849.9 268.4,831.9 260.7,815.9 258.6,807.9 258.6,801.9 259.5,795.9 262.6,783.9 265.4,775.9 269.5,769.9 279.8,759.8 287.8,750.2 291.8,746.8 295.8,744.6 321.8,737.9 345.8,730.0 359.8,726.4 369.8,724.5 382.8,723.9Z"/>
<path fill="#238a8d" d="M365.8,729.7 373.8,728.9 403.8,728.9 415.8,730.5 425.8,733.6 429.8,736.0 435.6,741.9 445.3,755.9 457.3,769.9 460.7,775.9 461.6,779.9 462.0,791.9 462.1,805.9 461.5,809.9 459.1,815.9 451.5,827.9 447.9,835.9 425.3,905.9 424.9,909.9 289.2,909.9 283.1,861.9 280.0,845.9 274.5,829.9 266.1,815.9 263.6,807.9 263.5,801.9 264.3,795.9 269.0,777.9 272.6,771.9 289.8,752.3 295.8,747.8 301.8,745.7 327.1,739.9 345.8,734.2 364.9,729.9Z"/>
<path fill="#1f968b" d="M371.8,733.9 385.8,734.1 403.8,735.2 411.8,736.9 419.8,740.3 425.8,744.2 431.2,749.9 446.3,769.9 448.6,773.9 449.8,777.9 449.9,805.9 449.1,809.9 445.7,815.9 434.6,827.9 431.4,833.9 425.0,855.9 408.7,905.9 408.3,909.9 296.5,909.9 290.2,859.9 286.6,841.9 282.1,829.9 271.8,816.8 269.3,811.9 268.3,807.9 268.2,801.9 268.9,795.9 273.4,777.9 275.6,773.9 280.2,767.9 289.8,756.7 294.7,751.9 297.8,750.0 301.8,748.6 325.8,743.5 345.8,738.3 371.7,733.9Z"/>
<path fill="#1fa287" d="M363.8,739.6 373.8,738.8 389.8,739.7 403.8,741.7 411.8,744.6 420.2,749.9 429.8,759.4 437.7,769.9 439.7,773.9 440.9,777.9 440.4,793.9 439.2,803.9 438.2,807.9 434.2,813.9 421.6,825.9 417.6,831.9 405.4,863.9 391.7,905.9 391.3,909.9 302.8,909.9 301.8,897.2 297.5,861.9 295.2,847.9 292.8,837.9 289.9,829.9 277.8,817.7 274.2,811.9 272.9,807.9 272.6,803.9 273.4,795.9 277.5,777.9 280.8,771.9 285.3,765.9 291.8,758.5 295.8,754.9 299.8,752.5 307.8,750.2 345.8,742.1 361.9,739.9Z"/>
<path fill="#28ae80" d="M369.8,743.8 381.8,744.0 393.8,745.7 403.8,747.9 411.8,751.5 419.8,757.5 427.8,765.9 432.5,773.9 433.7,779.9 432.4,793.9 430.3,801.9 428.0,807.9 423.2,813.9 412.1,823.9 406.6,829.9 396.7,845.9 390.3,857.9 387.3,865.9 375.8,904.1 375.0,909.9 307.8,909.9 303.4,861.9 301.4,847.9 298.7,835.9 296.6,829.9 295.2,827.9 283.8,818.2 280.1,813.9 278.0,809.9 277.2,805.9 278.4,791.9 280.7,779.9 282.0,775.9 284.2,771.9 288.6,765.9 293.8,760.3 297.8,757.2 303.8,754.5 309.8,752.8 339.8,746.8 347.8,745.6 368.4,743.9Z"/>
<path fill="#38b977" d="M341.8,749.9 349.8,749.1 377.8,748.3 387.8,749.4 401.8,752.5 411.8,757.0 418.3,761.9 424.4,769.9 426.4,773.9 427.5,777.9 427.2,785.9 425.6,793.9 422.7,801.9 419.5,807.9 411.8,815.9 394.1,829.9 390.1,833.9 381.8,843.6 376.8,851.9 373.8,859.5 371.8,867.4 364.9,899.9 363.6,909.9 312.6,909.9 311.4,893.9 307.7,859.9 304.7,841.9 301.9,829.9 299.0,825.9 288.8,817.9 284.9,813.9 282.5,809.9 281.5,805.9 282.2,793.9 284.7,777.9 287.5,771.9 293.8,763.9 299.8,759.5 307.8,756.4 315.8,754.4 341.6,749.9Z"/>
<path fill="#50c46a" d="M337.8,753.7 347.8,752.6 377.8,752.4 387.8,753.7 401.8,756.6 409.8,759.7 415.8,764.1 420.1,769.9 421.8,773.9 422.7,777.9 422.4,785.9 420.6,793.9 417.9,799.9 413.8,806.2 408.5,811.9 399.8,818.9 393.8,822.9 381.0,829.9 375.8,835.4 371.8,841.4 367.8,849.9 364.9,857.9 357.8,882.7 350.2,905.9 349.9,909.9 318.3,909.9 317.1,895.9 312.4,861.9 309.7,847.9 305.4,829.9 301.8,824.1 289.6,813.9 286.8,809.9 285.6,805.9 286.1,793.9 288.0,777.9 290.7,771.9 295.6,765.9 301.3,761.9 309.8,758.5 317.8,756.7 336.6,753.9Z"/>
<path fill="#6ccd5a" d="M347.8,755.9 379.8,756.1 389.8,757.3 403.8,760.2 409.8,763.0 415.3,767.9 418.5,773.9 419.4,777.9 419.5,781.9 418.6,787.9 417.4,791.9 415.6,795.9 411.8,801.4 404.0,809.9 395.8,816.5 387.8,821.5 374.3,827.9 371.9,829.9 353.8,861.7 349.8,866.4 339.8,874.5 339.0,887.9 338.6,909.9 330.8,909.9 329.8,880.7 325.8,881.6 323.8,881.0 321.8,877.3 307.5,827.9 303.3,821.9 301.3,819.9 299.8,819.4 292.4,811.9 290.1,807.9 289.7,803.9 290.0,793.9 291.0,779.9 291.9,775.9 294.0,771.9 299.8,764.6 303.2,763.9 311.8,760.4 317.8,759.0 346.9,755.9Z"/>
<path fill="#8bd646" d="M327.8,759.9 345.8,758.5 375.8,758.6 385.8,759.4 399.8,761.7 406.2,763.9 411.8,767.9 415.6,773.9 416.8,779.9 415.6,787.9 414.1,791.9 411.8,795.8 407.8,800.4 395.7,811.9 387.5,817.9 373.8,824.2 368.3,827.9 357.8,843.3 351.8,849.1 337.8,854.4 327.8,856.3 323.8,856.0 319.8,851.4 315.8,843.4 311.1,829.9 309.2,825.9 304.8,819.9 301.8,819.3 299.6,817.9 298.6,813.9 295.8,810.7 294.3,807.9 293.7,803.9 294.7,777.9 296.3,773.9 299.2,769.9 299.6,765.9 301.8,764.7 308.7,763.9 317.8,761.1 327.6,759.9Z"/>
<path fill="#addc30" d="M327.8,761.9 345.8,760.8 375.8,761.0 383.8,761.4 393.8,762.9 401.8,764.6 407.8,767.6 411.8,771.9 414.1,777.9 414.1,781.9 413.4,785.9 411.9,789.9 409.8,793.4 405.8,797.8 398.6,803.9 390.7,811.9 383.8,816.6 371.8,821.9 365.8,825.8 361.7,829.9 355.8,837.7 351.8,841.3 341.8,845.7 333.8,847.3 327.8,847.1 323.8,846.4 320.8,843.9 317.8,839.5 311.9,825.9 307.8,819.9 305.8,819.1 301.8,818.6 300.7,817.9 300.2,811.9 297.9,805.9 298.0,779.9 298.2,777.9 300.4,771.9 300.7,765.9 301.8,765.3 307.8,765.0 309.8,765.8 317.8,763.1 327.6,761.9Z"/>
<path fill="#cde11d" d="M327.8,763.8 345.8,762.9 375.8,763.1 383.8,763.6 393.8,765.2 401.8,767.1 406.8,769.9 410.1,773.9 411.0,775.9 411.7,779.9 410.7,785.9 407.4,791.9 403.8,795.6 395.8,801.8 390.3,807.9 385.9,811.9 381.8,814.6 370.1,819.9 363.8,823.7 358.6,827.9 351.8,835.0 345.8,839.0 339.8,841.8 333.8,842.8 325.8,841.5 323.8,840.7 321.8,839.1 319.5,835.9 315.7,827.9 312.0,821.9 309.8,818.9 307.8,817.9 305.8,815.9 305.8,813.9 301.8,809.9 301.8,773.9 307.8,767.9 309.8,768.4 317.8,765.1 326.6,763.9Z"/>
<path fill="#efe51c" d="M325.8,765.9 347.8,765.0 375.8,765.2 385.8,766.0 395.8,767.9 402.3,769.9 405.3,771.9 407.1,773.9 408.9,777.9 408.5,783.9 405.4,789.9 401.8,793.4 393.2,799.9 383.7,809.9 379.8,812.6 369.8,817.2 361.6,821.9 353.0,827.9 341.8,837.3 335.8,839.3 329.8,838.9 323.7,835.9 321.8,833.8 316.1,823.9 307.7,811.9 305.3,805.9 305.0,779.9 306.0,775.9 309.0,771.9 313.8,768.7 319.8,766.6 325.3,765.9Z"/>
<path fill="#fde725" d="M325.8,767.9 349.8,767.2 377.8,767.4 385.8,768.2 393.9,769.9 401.8,772.6 405.1,775.9 406.3,779.9 405.5,783.9 403.1,787.9 390.5,797.9 379.8,809.0 363.8,817.4 349.8,825.6 343.7,831.9 339.8,835.0 337.7,835.9 333.8,836.5 330.8,835.9 327.8,834.5 323.8,831.1 310.7,811.9 308.4,805.9 308.2,779.9 309.3,775.9 311.8,772.8 315.8,770.1 319.8,768.7 325.0,767.9Z"/>
</g>
<g clip-path="url(#cpf)"><rect x="684" y="677.9" width="425" height="229.2" fill="#460a5d"/>
<path fill="#481c6e" d="M970.0,678.7 973.0,675.9 1112.0,675.9 1112.0,909.9 758.9,909.9 758.3,905.9 754.7,897.9 751.6,887.9 749.4,877.9 746.0,854.9 740.5,839.9 738.7,831.9 738.6,803.9 739.4,795.9 740.9,789.9 742.6,785.9 748.0,777.4 754.0,772.6 767.5,765.9 777.0,759.9 794.0,745.6 801.1,741.9 812.0,738.6 818.1,735.9 824.0,731.9 832.0,723.9 842.0,718.4 852.0,715.0 868.1,711.9 886.0,706.7 891.1,703.9 896.0,699.7 902.0,695.9 926.0,686.1 936.0,684.1 960.0,682.2 968.5,679.9Z"/>
<path fill="#472d7b" d="M994.0,679.7 1009.0,675.9 1100.9,675.9 1108.0,680.7 1112.0,681.3 1112.0,909.9 772.2,909.9 771.9,905.9 770.0,897.1 761.4,863.9 758.1,853.9 751.4,839.9 749.8,833.9 749.8,801.9 751.8,795.9 756.0,790.0 774.0,775.9 790.0,764.7 805.0,751.9 836.0,735.9 854.0,724.9 862.0,722.0 886.0,715.8 896.0,712.5 910.8,705.9 924.0,698.6 932.0,695.3 940.0,693.2 964.0,689.0 982.0,682.6 993.4,679.9Z"/>
<path fill="#443b84" d="M1026.0,679.8 1036.0,679.0 1064.0,680.3 1076.0,681.8 1085.6,683.9 1092.0,686.3 1098.4,689.9 1104.0,695.1 1108.0,701.1 1112.0,703.4 1112.0,909.9 780.3,909.9 780.1,905.9 777.9,891.9 771.4,857.9 769.2,851.9 760.8,837.9 759.1,831.9 759.1,803.9 760.5,799.9 764.0,795.4 781.5,781.9 802.0,764.3 813.5,755.9 823.5,749.9 860.0,730.8 870.0,726.9 893.4,719.9 910.0,714.0 930.0,705.0 938.0,702.0 970.0,694.3 1000.0,684.8 1016.0,681.3 1025.4,679.9Z"/>
<path fill="#3e4a89" d="M1024.0,683.6 1034.0,682.6 1050.0,683.5 1066.0,685.6 1076.0,688.5 1084.0,692.3 1091.4,697.9 1096.1,703.9 1100.0,711.9 1102.4,719.9 1108.0,745.9 1110.8,749.9 1112.0,753.9 1112.0,909.9 787.1,909.9 784.0,881.6 780.1,855.9 778.0,849.5 772.5,837.9 770.8,831.9 770.7,803.9 772.4,799.9 777.7,793.9 798.0,775.5 808.0,767.7 830.0,753.3 858.0,738.1 870.0,733.4 914.0,718.7 940.0,708.5 978.0,698.7 1002.1,689.9 1022.4,683.9Z"/>
<path fill="#38598c" d="M1022.0,687.8 1032.0,686.0 1042.0,686.4 1060.0,689.5 1070.0,692.8 1078.0,697.6 1084.0,703.4 1090.0,711.7 1093.5,719.9 1095.4,727.9 1097.8,745.9 1098.9,769.9 1097.4,851.9 1097.3,909.9 791.8,909.9 787.0,855.9 786.0,851.2 781.6,837.9 780.4,831.9 780.3,805.9 780.9,801.9 783.0,797.9 791.9,787.9 804.0,777.4 810.0,773.2 846.6,749.9 856.0,744.7 864.0,741.0 874.0,737.2 918.0,723.0 948.0,711.7 984.0,703.4 1002.0,695.5 1021.7,687.9Z"/>
<path fill="#31668e" d="M1030.0,689.7 1038.0,689.7 1048.0,691.3 1060.0,694.7 1067.1,697.9 1072.7,701.9 1079.8,709.9 1084.8,717.9 1087.0,723.9 1087.6,727.9 1088.2,739.9 1089.0,775.9 1088.2,909.9 795.9,909.9 792.0,857.9 791.0,851.9 787.5,837.9 786.7,829.9 786.8,805.9 787.4,801.9 790.3,795.9 796.0,789.3 808.0,780.4 835.1,763.9 852.0,752.6 860.3,747.9 870.0,743.3 882.0,739.0 922.0,727.4 952.0,715.5 986.0,708.2 996.0,704.1 1020.0,692.6 1028.8,689.9Z"/>
<path fill="#2c728e" d="M1028.0,693.8 1034.0,693.2 1042.0,694.2 1052.0,697.2 1062.0,701.6 1068.0,705.9 1073.9,711.9 1077.8,717.9 1080.1,723.9 1080.7,731.9 1079.5,779.9 1080.7,847.9 1080.7,909.9 799.9,909.9 795.9,855.9 791.8,839.9 790.7,831.9 791.4,803.9 793.6,797.9 798.2,791.9 806.0,785.8 838.9,767.9 859.6,753.9 874.7,745.9 894.0,739.5 930.0,730.3 936.0,727.9 948.0,722.0 954.0,719.7 978.0,715.0 986.0,713.0 1007.3,703.9 1020.0,696.8 1027.5,693.9Z"/>
<path fill="#277e8e" d="M1028.0,697.6 1034.0,697.1 1042.0,698.8 1049.9,701.9 1060.0,707.1 1064.3,709.9 1068.7,713.9 1072.0,718.4 1074.3,723.9 1075.0,727.9 1074.9,733.9 1072.6,753.9 1071.1,779.9 1073.7,805.9 1075.4,845.9 1075.6,909.9 804.0,909.9 799.8,855.9 795.2,839.9 794.0,831.9 795.1,803.9 797.5,797.9 802.0,792.5 806.0,789.4 814.0,784.8 846.0,769.9 852.5,765.9 869.1,753.9 880.0,748.2 900.0,741.7 934.0,734.1 939.5,731.9 951.0,725.9 956.0,724.0 974.0,720.8 984.0,718.4 1010.0,707.3 1022.0,699.9 1027.1,697.9Z"/>
<path fill="#238a8d" d="M1028.0,701.6 1032.0,701.2 1038.0,702.4 1045.8,705.9 1060.0,713.5 1063.2,715.9 1066.0,718.9 1067.9,721.9 1069.3,725.9 1069.5,731.9 1068.3,739.9 1059.4,775.9 1058.9,779.9 1059.6,783.9 1064.0,794.9 1066.0,801.6 1068.2,817.9 1070.9,851.9 1070.9,909.9 809.0,909.9 804.0,855.9 798.3,839.9 796.9,831.9 797.2,817.9 798.4,803.9 801.1,797.9 804.7,793.9 810.2,789.9 818.0,785.7 844.4,775.9 853.4,771.9 862.0,766.7 875.6,755.9 882.0,752.3 887.6,749.9 904.0,744.6 934.0,738.9 958.0,729.1 976.0,726.3 984.0,724.1 995.0,717.9 1010.0,711.4 1022.0,704.0 1026.8,701.9ZM1007.5,763.9 1004.0,765.5 1002.0,767.3 999.0,771.9 997.4,775.9 996.4,787.9 996.2,807.9 998.0,816.2 1002.0,824.7 1006.0,829.5 1008.0,830.5 1012.0,830.2 1015.6,827.9 1017.3,825.9 1019.3,821.9 1020.4,817.9 1021.5,807.9 1021.5,779.9 1020.1,773.9 1016.2,767.9 1012.0,764.5 1008.0,763.8Z"/>
<path fill="#1f968b" d="M1026.0,705.9 1032.0,705.3 1038.0,707.3 1052.7,715.9 1060.0,721.3 1062.0,723.9 1063.3,727.9 1063.2,731.9 1061.7,737.9 1058.0,744.5 1047.5,757.9 1042.0,762.1 1036.0,764.3 1032.0,764.3 1030.0,763.5 1024.0,759.2 1016.0,751.9 1010.0,748.7 1002.0,748.0 998.0,748.6 995.3,749.9 993.9,751.9 992.0,759.0 986.5,769.9 984.4,775.9 984.0,779.9 984.0,805.9 984.9,813.9 988.0,825.3 992.0,835.9 996.0,842.4 1002.0,850.4 1006.0,854.8 1008.0,856.0 1010.0,856.1 1012.0,855.5 1022.0,848.6 1027.0,845.9 1042.0,840.3 1056.0,831.3 1058.0,830.8 1060.0,831.3 1062.0,835.4 1063.8,841.9 1065.2,851.9 1065.3,909.9 815.4,909.9 809.0,855.9 802.8,843.9 800.2,835.9 799.6,831.9 799.8,821.9 801.6,803.9 803.3,799.9 806.0,796.4 814.8,789.9 826.0,784.9 845.0,779.9 860.0,774.5 867.9,769.9 878.0,762.0 884.0,758.0 895.8,751.9 902.0,749.6 910.0,747.7 934.0,743.7 940.0,741.7 952.0,736.4 958.0,734.7 968.0,734.3 974.0,735.0 984.0,737.3 988.0,737.1 990.0,735.6 990.7,733.9 991.7,727.9 992.7,725.9 994.7,723.9 1000.8,719.9 1012.0,714.4 1022.0,707.6 1026.0,705.9Z"/>
<path fill="#1fa287" d="M1026.0,709.2 1032.0,709.1 1037.9,711.9 1049.7,721.9 1052.7,725.9 1053.3,727.9 1053.3,729.9 1052.3,733.9 1048.6,739.9 1042.0,746.5 1038.0,749.3 1034.0,751.1 1032.0,751.5 1028.0,751.1 1022.0,748.5 1006.0,737.8 1003.9,735.9 1001.7,731.9 1001.4,727.9 1004.0,724.4 1012.0,718.8 1020.0,712.3 1024.2,709.9ZM952.0,741.8 960.0,739.9 964.0,740.2 968.0,741.2 972.9,743.9 974.8,745.9 977.0,749.9 977.8,753.9 977.6,761.9 979.1,763.9 979.0,809.9 980.0,831.8 982.2,839.9 990.8,855.9 996.9,873.9 997.8,879.9 997.8,909.9 822.9,909.9 816.8,863.9 815.2,855.9 806.0,843.6 804.0,839.4 802.5,833.9 802.4,823.9 803.4,811.9 804.7,803.9 806.6,799.9 810.3,795.9 814.0,793.0 819.0,789.9 824.0,787.7 832.0,785.2 849.2,781.9 862.0,778.8 868.9,775.9 888.0,766.3 901.2,757.9 906.0,755.5 912.0,753.5 936.0,749.0 951.7,741.9Z"/>
<path fill="#28ae80" d="M1024.0,713.2 1028.0,712.2 1030.0,712.3 1034.2,713.9 1036.9,715.9 1040.4,719.9 1043.6,725.9 1043.8,729.9 1041.8,735.9 1038.0,740.9 1034.0,743.9 1032.0,744.8 1028.0,745.2 1022.0,743.0 1016.0,737.9 1012.0,731.9 1011.3,727.9 1013.0,723.9 1017.8,717.9 1022.8,713.9ZM954.0,747.8 958.0,746.8 962.0,747.0 966.0,749.3 967.7,751.9 968.2,755.9 967.2,779.9 972.0,801.9 972.8,785.9 972.7,763.9 974.0,762.8 976.0,762.5 977.4,763.9 977.4,835.9 978.0,862.5 982.6,873.9 983.9,879.9 984.0,909.9 830.5,909.9 830.3,905.9 824.5,865.9 822.3,855.9 820.6,853.9 814.0,848.5 809.9,843.9 807.3,839.9 805.2,833.9 805.4,819.9 807.8,803.9 811.7,797.9 819.3,791.9 826.0,788.8 834.0,786.6 863.6,781.9 882.0,777.0 900.0,774.9 928.0,769.3 932.0,767.8 936.0,765.6 940.0,761.4 947.2,751.9 953.7,747.9Z"/>
<path fill="#38b977" d="M1026.0,715.8 1030.0,715.8 1033.6,717.9 1036.8,721.9 1038.2,725.9 1038.2,729.9 1037.0,733.9 1034.0,737.9 1030.7,739.9 1028.0,740.4 1026.0,740.2 1022.0,738.1 1018.4,733.9 1016.8,729.9 1016.9,725.9 1018.7,721.9 1022.0,718.0 1025.9,715.9ZM976.0,763.6 976.6,909.9 974.8,909.9 974.8,763.9ZM952.0,766.3 956.0,766.2 957.7,767.9 958.0,787.8 960.0,788.5 962.0,790.0 964.0,792.5 966.4,797.9 967.6,803.9 968.6,819.9 968.9,831.9 967.8,839.9 965.5,845.9 959.7,853.9 959.0,855.9 959.0,909.9 837.4,909.9 832.2,865.9 830.0,855.9 827.8,853.9 818.0,848.3 814.0,844.7 809.4,837.9 807.7,831.9 808.4,817.9 810.8,803.9 813.0,799.9 816.0,796.7 819.6,793.9 824.0,791.5 830.0,789.3 840.0,787.2 882.0,781.7 920.0,782.7 950.0,786.2 950.4,767.9Z"/>
<path fill="#50c46a" d="M1026.0,719.8 1028.0,719.5 1030.0,720.1 1032.1,721.9 1033.9,725.9 1034.0,728.3 1032.9,731.9 1030.0,734.9 1028.0,735.6 1026.0,735.4 1024.0,734.3 1022.0,732.1 1021.1,729.9 1020.7,727.9 1021.6,723.9 1024.0,720.9 1025.8,719.9ZM952.0,766.9 956.0,766.9 957.0,767.9 957.1,785.9 958.0,796.2 960.0,798.0 962.0,801.9 962.6,807.9 963.1,831.9 962.2,835.9 961.1,837.9 958.0,841.3 957.5,847.9 957.2,909.9 950.6,909.9 950.6,855.9 950.0,845.1 942.4,847.9 938.7,849.9 936.0,852.0 934.6,853.9 934.0,855.9 934.0,909.9 844.1,909.9 840.3,867.9 838.0,855.9 835.7,853.9 824.0,849.1 818.0,845.4 813.2,839.9 811.3,835.9 810.3,831.9 811.1,817.9 813.5,803.9 815.8,799.9 817.6,797.9 822.0,794.5 826.0,792.4 832.0,790.4 844.0,788.2 882.0,784.3 910.0,785.2 918.0,785.9 924.0,786.8 950.0,792.9 950.9,783.9 951.0,767.9Z"/>
<path fill="#6ccd5a" d="M952.0,767.5 954.0,767.3 956.4,767.9 956.4,787.9 957.2,805.9 957.1,831.9 956.5,853.9 956.5,909.9 951.5,909.9 951.4,849.9 950.0,832.8 945.8,835.9 934.0,842.5 930.0,847.1 926.5,853.9 926.2,909.9 850.5,909.9 848.6,867.9 847.3,855.9 845.2,853.9 840.1,851.9 828.0,848.5 824.0,846.8 820.0,844.4 817.3,841.9 814.5,837.9 812.6,831.9 813.6,815.9 815.4,805.9 816.9,801.9 820.3,797.9 824.0,795.3 828.0,793.3 834.0,791.5 850.0,788.9 878.0,786.4 912.0,787.5 918.0,788.3 924.2,789.9 945.0,797.9 950.0,800.4 951.3,791.9 951.6,767.9Z"/>
<path fill="#8bd646" d="M856.0,789.8 882.0,788.1 914.0,789.8 920.0,791.1 926.4,793.9 935.0,799.9 938.7,803.9 938.9,807.9 938.0,815.9 933.7,831.9 922.3,851.9 921.2,855.9 921.2,909.9 892.5,909.9 892.5,855.9 892.0,845.0 890.0,847.5 889.9,849.9 889.8,909.9 856.3,909.9 855.6,855.9 854.3,853.9 850.5,851.9 830.0,847.2 822.6,843.9 820.0,841.9 816.7,837.9 815.0,833.9 814.6,829.9 815.2,819.9 816.8,809.9 818.3,803.9 821.0,799.9 826.0,796.0 832.0,793.6 842.0,791.5 854.3,789.9Z"/>
<path fill="#addc30" d="M880.0,789.9 908.0,791.0 916.0,792.1 921.0,793.9 926.0,797.1 928.8,799.9 930.9,803.9 930.5,815.9 928.1,833.9 924.4,841.9 917.8,851.9 916.5,855.9 916.5,909.9 893.2,909.9 893.2,853.9 892.6,843.9 892.0,841.1 890.0,841.3 889.7,841.9 889.4,847.9 889.2,909.9 861.2,909.9 861.5,855.9 860.8,853.9 858.8,851.9 854.0,849.8 832.0,845.9 826.0,843.8 820.5,839.9 818.9,837.9 817.0,833.9 816.6,829.9 817.0,821.9 819.4,807.9 820.7,803.9 821.9,801.9 826.0,798.0 832.0,795.2 846.0,792.3 856.0,791.2 878.5,789.9Z"/>
<path fill="#cde11d" d="M872.0,791.8 892.0,791.8 910.0,792.9 914.0,793.6 919.9,795.9 922.9,797.9 924.8,799.9 926.8,803.9 926.5,817.9 924.8,833.9 922.3,839.9 913.3,851.9 911.7,855.9 911.7,909.9 893.9,909.9 893.9,853.9 893.1,841.9 892.0,839.8 890.0,839.9 889.1,841.9 888.9,843.9 888.6,909.9 864.9,909.9 865.2,855.9 864.0,852.4 861.6,849.9 856.8,847.9 848.0,846.2 832.0,844.2 828.0,842.9 824.0,840.7 822.0,838.9 819.0,833.9 818.5,831.9 818.6,825.9 820.2,813.9 823.1,803.9 826.5,799.9 832.0,797.0 844.0,794.2 854.0,792.8 870.1,791.9Z"/>
<path fill="#efe51c" d="M862.0,793.9 884.0,793.2 910.0,794.7 914.8,795.9 918.8,797.9 921.2,799.9 923.5,803.9 923.2,819.9 921.9,833.9 920.2,837.9 918.0,841.4 907.8,851.9 906.3,855.9 906.3,909.9 894.9,909.9 894.8,853.9 893.8,841.9 892.0,838.8 890.0,838.9 889.2,839.9 888.3,843.9 887.9,909.9 868.1,909.9 868.4,855.9 867.3,851.9 864.0,848.2 859.0,845.9 830.0,841.9 826.0,840.0 824.0,838.4 820.9,833.9 820.4,827.9 821.9,815.9 824.7,805.9 827.3,801.9 832.0,798.9 840.0,796.6 850.0,794.8 861.2,793.9Z"/>
<path fill="#fde725" d="M854.0,795.9 884.0,794.9 908.0,796.5 912.0,797.2 916.0,798.9 919.3,801.9 920.2,803.9 920.0,821.9 919.0,833.9 915.6,839.9 912.0,843.5 905.7,847.9 903.8,849.9 901.7,853.9 901.4,909.9 895.8,909.9 895.8,853.9 894.7,841.9 893.9,839.9 892.2,837.9 890.0,837.8 888.4,839.9 887.6,843.9 887.2,909.9 871.2,909.9 871.5,855.9 870.6,851.9 869.6,849.9 865.4,845.9 860.0,843.7 852.0,842.5 834.0,841.0 830.0,840.1 826.0,837.8 823.0,833.9 822.3,829.9 823.2,819.9 825.8,809.9 828.6,803.9 830.7,801.9 834.9,799.9 844.0,797.4 853.7,795.9Z"/>
</g>
<g stroke="#000" stroke-linecap="butt"><line x1="99.8" y1="358.8" x2="99.8" y2="367.6" stroke-width="1.6"/><line x1="172.8" y1="358.8" x2="172.8" y2="363.4" stroke-width="1.2"/><line x1="215.5" y1="358.8" x2="215.5" y2="363.4" stroke-width="1.2"/><line x1="245.8" y1="358.8" x2="245.8" y2="363.4" stroke-width="1.2"/><line x1="269.3" y1="358.8" x2="269.3" y2="363.4" stroke-width="1.2"/><line x1="288.5" y1="358.8" x2="288.5" y2="363.4" stroke-width="1.2"/><line x1="304.74" y1="358.8" x2="304.74" y2="363.4" stroke-width="1.2"/><line x1="318.8" y1="358.8" x2="318.8" y2="363.4" stroke-width="1.2"/><line x1="331.2" y1="358.8" x2="331.2" y2="363.4" stroke-width="1.2"/><line x1="342.3" y1="358.8" x2="342.3" y2="367.6" stroke-width="1.6"/><line x1="415.3" y1="358.8" x2="415.3" y2="363.4" stroke-width="1.2"/><line x1="458" y1="358.8" x2="458" y2="363.4" stroke-width="1.2"/><line x1="488.3" y1="358.8" x2="488.3" y2="363.4" stroke-width="1.2"/><line x1="511.8" y1="358.8" x2="511.8" y2="363.4" stroke-width="1.2"/><line x1="91" y1="358.8" x2="99.8" y2="358.8" stroke-width="1.6"/><line x1="95.2" y1="328.32" x2="99.8" y2="328.32" stroke-width="1.2"/><line x1="95.2" y1="310.49" x2="99.8" y2="310.49" stroke-width="1.2"/><line x1="95.2" y1="297.84" x2="99.8" y2="297.84" stroke-width="1.2"/><line x1="95.2" y1="288.03" x2="99.8" y2="288.03" stroke-width="1.2"/><line x1="95.2" y1="280.01" x2="99.8" y2="280.01" stroke-width="1.2"/><line x1="95.2" y1="273.23" x2="99.8" y2="273.23" stroke-width="1.2"/><line x1="95.2" y1="267.36" x2="99.8" y2="267.36" stroke-width="1.2"/><line x1="95.2" y1="262.18" x2="99.8" y2="262.18" stroke-width="1.2"/><line x1="91" y1="257.55" x2="99.8" y2="257.55" stroke-width="1.6"/><line x1="95.2" y1="227.07" x2="99.8" y2="227.07" stroke-width="1.2"/><line x1="95.2" y1="209.24" x2="99.8" y2="209.24" stroke-width="1.2"/><line x1="95.2" y1="196.59" x2="99.8" y2="196.59" stroke-width="1.2"/><line x1="95.2" y1="186.78" x2="99.8" y2="186.78" stroke-width="1.2"/><line x1="95.2" y1="178.76" x2="99.8" y2="178.76" stroke-width="1.2"/><line x1="95.2" y1="171.98" x2="99.8" y2="171.98" stroke-width="1.2"/><line x1="95.2" y1="166.11" x2="99.8" y2="166.11" stroke-width="1.2"/><line x1="95.2" y1="160.93" x2="99.8" y2="160.93" stroke-width="1.2"/><line x1="91" y1="156.3" x2="99.8" y2="156.3" stroke-width="1.6"/><rect x="99.8" y="129.6" width="425.2" height="229.2" fill="none" stroke-width="1.6"/><line x1="684" y1="358.8" x2="684" y2="367.6" stroke-width="1.6"/><line x1="735.42" y1="358.8" x2="735.42" y2="363.4" stroke-width="1.2"/><line x1="765.49" y1="358.8" x2="765.49" y2="363.4" stroke-width="1.2"/><line x1="786.83" y1="358.8" x2="786.83" y2="363.4" stroke-width="1.2"/><line x1="803.38" y1="358.8" x2="803.38" y2="363.4" stroke-width="1.2"/><line x1="816.91" y1="358.8" x2="816.91" y2="363.4" stroke-width="1.2"/><line x1="828.34" y1="358.8" x2="828.34" y2="363.4" stroke-width="1.2"/><line x1="838.25" y1="358.8" x2="838.25" y2="363.4" stroke-width="1.2"/><line x1="846.98" y1="358.8" x2="846.98" y2="363.4" stroke-width="1.2"/><line x1="854.8" y1="358.8" x2="854.8" y2="367.6" stroke-width="1.6"/><line x1="906.22" y1="358.8" x2="906.22" y2="363.4" stroke-width="1.2"/><line x1="936.29" y1="358.8" x2="936.29" y2="363.4" stroke-width="1.2"/><line x1="957.63" y1="358.8" x2="957.63" y2="363.4" stroke-width="1.2"/><line x1="974.18" y1="358.8" x2="974.18" y2="363.4" stroke-width="1.2"/><line x1="987.71" y1="358.8" x2="987.71" y2="363.4" stroke-width="1.2"/><line x1="999.14" y1="358.8" x2="999.14" y2="363.4" stroke-width="1.2"/><line x1="1009.05" y1="358.8" x2="1009.05" y2="363.4" stroke-width="1.2"/><line x1="1017.78" y1="358.8" x2="1017.78" y2="363.4" stroke-width="1.2"/><line x1="1025.6" y1="358.8" x2="1025.6" y2="367.6" stroke-width="1.6"/><line x1="1077.02" y1="358.8" x2="1077.02" y2="363.4" stroke-width="1.2"/><line x1="1107.09" y1="358.8" x2="1107.09" y2="363.4" stroke-width="1.2"/><line x1="675.2" y1="358.8" x2="684" y2="358.8" stroke-width="1.6"/><line x1="679.4" y1="335.8" x2="684" y2="335.8" stroke-width="1.2"/><line x1="679.4" y1="322.35" x2="684" y2="322.35" stroke-width="1.2"/><line x1="679.4" y1="312.8" x2="684" y2="312.8" stroke-width="1.2"/><line x1="679.4" y1="305.4" x2="684" y2="305.4" stroke-width="1.2"/><line x1="679.4" y1="299.35" x2="684" y2="299.35" stroke-width="1.2"/><line x1="679.4" y1="294.23" x2="684" y2="294.23" stroke-width="1.2"/><line x1="679.4" y1="289.8" x2="684" y2="289.8" stroke-width="1.2"/><line x1="679.4" y1="285.9" x2="684" y2="285.9" stroke-width="1.2"/><line x1="675.2" y1="282.4" x2="684" y2="282.4" stroke-width="1.6"/><line x1="679.4" y1="259.4" x2="684" y2="259.4" stroke-width="1.2"/><line x1="679.4" y1="245.95" x2="684" y2="245.95" stroke-width="1.2"/><line x1="679.4" y1="236.4" x2="684" y2="236.4" stroke-width="1.2"/><line x1="679.4" y1="229" x2="684" y2="229" stroke-width="1.2"/><line x1="679.4" y1="222.95" x2="684" y2="222.95" stroke-width="1.2"/><line x1="679.4" y1="217.83" x2="684" y2="217.83" stroke-width="1.2"/><line x1="679.4" y1="213.4" x2="684" y2="213.4" stroke-width="1.2"/><line x1="679.4" y1="209.5" x2="684" y2="209.5" stroke-width="1.2"/><line x1="675.2" y1="206" x2="684" y2="206" stroke-width="1.6"/><line x1="679.4" y1="183" x2="684" y2="183" stroke-width="1.2"/><line x1="679.4" y1="169.55" x2="684" y2="169.55" stroke-width="1.2"/><line x1="679.4" y1="160" x2="684" y2="160" stroke-width="1.2"/><line x1="679.4" y1="152.6" x2="684" y2="152.6" stroke-width="1.2"/><line x1="679.4" y1="146.55" x2="684" y2="146.55" stroke-width="1.2"/><line x1="679.4" y1="141.43" x2="684" y2="141.43" stroke-width="1.2"/><line x1="679.4" y1="137" x2="684" y2="137" stroke-width="1.2"/><line x1="679.4" y1="133.1" x2="684" y2="133.1" stroke-width="1.2"/><line x1="675.2" y1="129.6" x2="684" y2="129.6" stroke-width="1.6"/><rect x="684" y="129.6" width="425" height="229.2" fill="none" stroke-width="1.6"/><line x1="99.8" y1="632.95" x2="99.8" y2="641.75" stroke-width="1.6"/><line x1="172.8" y1="632.95" x2="172.8" y2="637.55" stroke-width="1.2"/><line x1="215.5" y1="632.95" x2="215.5" y2="637.55" stroke-width="1.2"/><line x1="245.8" y1="632.95" x2="245.8" y2="637.55" stroke-width="1.2"/><line x1="269.3" y1="632.95" x2="269.3" y2="637.55" stroke-width="1.2"/><line x1="288.5" y1="632.95" x2="288.5" y2="637.55" stroke-width="1.2"/><line x1="304.74" y1="632.95" x2="304.74" y2="637.55" stroke-width="1.2"/><line x1="318.8" y1="632.95" x2="318.8" y2="637.55" stroke-width="1.2"/><line x1="331.2" y1="632.95" x2="331.2" y2="637.55" stroke-width="1.2"/><line x1="342.3" y1="632.95" x2="342.3" y2="641.75" stroke-width="1.6"/><line x1="415.3" y1="632.95" x2="415.3" y2="637.55" stroke-width="1.2"/><line x1="458" y1="632.95" x2="458" y2="637.55" stroke-width="1.2"/><line x1="488.3" y1="632.95" x2="488.3" y2="637.55" stroke-width="1.2"/><line x1="511.8" y1="632.95" x2="511.8" y2="637.55" stroke-width="1.2"/><line x1="91" y1="632.95" x2="99.8" y2="632.95" stroke-width="1.6"/><line x1="95.2" y1="602.47" x2="99.8" y2="602.47" stroke-width="1.2"/><line x1="95.2" y1="584.64" x2="99.8" y2="584.64" stroke-width="1.2"/><line x1="95.2" y1="571.99" x2="99.8" y2="571.99" stroke-width="1.2"/><line x1="95.2" y1="562.18" x2="99.8" y2="562.18" stroke-width="1.2"/><line x1="95.2" y1="554.16" x2="99.8" y2="554.16" stroke-width="1.2"/><line x1="95.2" y1="547.38" x2="99.8" y2="547.38" stroke-width="1.2"/><line x1="95.2" y1="541.51" x2="99.8" y2="541.51" stroke-width="1.2"/><line x1="95.2" y1="536.33" x2="99.8" y2="536.33" stroke-width="1.2"/><line x1="91" y1="531.7" x2="99.8" y2="531.7" stroke-width="1.6"/><line x1="95.2" y1="501.22" x2="99.8" y2="501.22" stroke-width="1.2"/><line x1="95.2" y1="483.39" x2="99.8" y2="483.39" stroke-width="1.2"/><line x1="95.2" y1="470.74" x2="99.8" y2="470.74" stroke-width="1.2"/><line x1="95.2" y1="460.93" x2="99.8" y2="460.93" stroke-width="1.2"/><line x1="95.2" y1="452.91" x2="99.8" y2="452.91" stroke-width="1.2"/><line x1="95.2" y1="446.13" x2="99.8" y2="446.13" stroke-width="1.2"/><line x1="95.2" y1="440.26" x2="99.8" y2="440.26" stroke-width="1.2"/><line x1="95.2" y1="435.08" x2="99.8" y2="435.08" stroke-width="1.2"/><line x1="91" y1="430.45" x2="99.8" y2="430.45" stroke-width="1.6"/><rect x="99.8" y="403.75" width="425.2" height="229.2" fill="none" stroke-width="1.6"/><line x1="684" y1="632.95" x2="684" y2="641.75" stroke-width="1.6"/><line x1="735.42" y1="632.95" x2="735.42" y2="637.55" stroke-width="1.2"/><line x1="765.49" y1="632.95" x2="765.49" y2="637.55" stroke-width="1.2"/><line x1="786.83" y1="632.95" x2="786.83" y2="637.55" stroke-width="1.2"/><line x1="803.38" y1="632.95" x2="803.38" y2="637.55" stroke-width="1.2"/><line x1="816.91" y1="632.95" x2="816.91" y2="637.55" stroke-width="1.2"/><line x1="828.34" y1="632.95" x2="828.34" y2="637.55" stroke-width="1.2"/><line x1="838.25" y1="632.95" x2="838.25" y2="637.55" stroke-width="1.2"/><line x1="846.98" y1="632.95" x2="846.98" y2="637.55" stroke-width="1.2"/><line x1="854.8" y1="632.95" x2="854.8" y2="641.75" stroke-width="1.6"/><line x1="906.22" y1="632.95" x2="906.22" y2="637.55" stroke-width="1.2"/><line x1="936.29" y1="632.95" x2="936.29" y2="637.55" stroke-width="1.2"/><line x1="957.63" y1="632.95" x2="957.63" y2="637.55" stroke-width="1.2"/><line x1="974.18" y1="632.95" x2="974.18" y2="637.55" stroke-width="1.2"/><line x1="987.71" y1="632.95" x2="987.71" y2="637.55" stroke-width="1.2"/><line x1="999.14" y1="632.95" x2="999.14" y2="637.55" stroke-width="1.2"/><line x1="1009.05" y1="632.95" x2="1009.05" y2="637.55" stroke-width="1.2"/><line x1="1017.78" y1="632.95" x2="1017.78" y2="637.55" stroke-width="1.2"/><line x1="1025.6" y1="632.95" x2="1025.6" y2="641.75" stroke-width="1.6"/><line x1="1077.02" y1="632.95" x2="1077.02" y2="637.55" stroke-width="1.2"/><line x1="1107.09" y1="632.95" x2="1107.09" y2="637.55" stroke-width="1.2"/><line x1="675.2" y1="632.95" x2="684" y2="632.95" stroke-width="1.6"/><line x1="679.4" y1="609.95" x2="684" y2="609.95" stroke-width="1.2"/><line x1="679.4" y1="596.5" x2="684" y2="596.5" stroke-width="1.2"/><line x1="679.4" y1="586.95" x2="684" y2="586.95" stroke-width="1.2"/><line x1="679.4" y1="579.55" x2="684" y2="579.55" stroke-width="1.2"/><line x1="679.4" y1="573.5" x2="684" y2="573.5" stroke-width="1.2"/><line x1="679.4" y1="568.38" x2="684" y2="568.38" stroke-width="1.2"/><line x1="679.4" y1="563.95" x2="684" y2="563.95" stroke-width="1.2"/><line x1="679.4" y1="560.05" x2="684" y2="560.05" stroke-width="1.2"/><line x1="675.2" y1="556.55" x2="684" y2="556.55" stroke-width="1.6"/><line x1="679.4" y1="533.55" x2="684" y2="533.55" stroke-width="1.2"/><line x1="679.4" y1="520.1" x2="684" y2="520.1" stroke-width="1.2"/><line x1="679.4" y1="510.55" x2="684" y2="510.55" stroke-width="1.2"/><line x1="679.4" y1="503.15" x2="684" y2="503.15" stroke-width="1.2"/><line x1="679.4" y1="497.1" x2="684" y2="497.1" stroke-width="1.2"/><line x1="679.4" y1="491.98" x2="684" y2="491.98" stroke-width="1.2"/><line x1="679.4" y1="487.55" x2="684" y2="487.55" stroke-width="1.2"/><line x1="679.4" y1="483.65" x2="684" y2="483.65" stroke-width="1.2"/><line x1="675.2" y1="480.15" x2="684" y2="480.15" stroke-width="1.6"/><line x1="679.4" y1="457.15" x2="684" y2="457.15" stroke-width="1.2"/><line x1="679.4" y1="443.7" x2="684" y2="443.7" stroke-width="1.2"/><line x1="679.4" y1="434.15" x2="684" y2="434.15" stroke-width="1.2"/><line x1="679.4" y1="426.75" x2="684" y2="426.75" stroke-width="1.2"/><line x1="679.4" y1="420.7" x2="684" y2="420.7" stroke-width="1.2"/><line x1="679.4" y1="415.58" x2="684" y2="415.58" stroke-width="1.2"/><line x1="679.4" y1="411.15" x2="684" y2="411.15" stroke-width="1.2"/><line x1="679.4" y1="407.25" x2="684" y2="407.25" stroke-width="1.2"/><line x1="675.2" y1="403.75" x2="684" y2="403.75" stroke-width="1.6"/><rect x="684" y="403.75" width="425" height="229.2" fill="none" stroke-width="1.6"/><line x1="99.8" y1="907.1" x2="99.8" y2="915.9" stroke-width="1.6"/><line x1="172.8" y1="907.1" x2="172.8" y2="911.7" stroke-width="1.2"/><line x1="215.5" y1="907.1" x2="215.5" y2="911.7" stroke-width="1.2"/><line x1="245.8" y1="907.1" x2="245.8" y2="911.7" stroke-width="1.2"/><line x1="269.3" y1="907.1" x2="269.3" y2="911.7" stroke-width="1.2"/><line x1="288.5" y1="907.1" x2="288.5" y2="911.7" stroke-width="1.2"/><line x1="304.74" y1="907.1" x2="304.74" y2="911.7" stroke-width="1.2"/><line x1="318.8" y1="907.1" x2="318.8" y2="911.7" stroke-width="1.2"/><line x1="331.2" y1="907.1" x2="331.2" y2="911.7" stroke-width="1.2"/><line x1="342.3" y1="907.1" x2="342.3" y2="915.9" stroke-width="1.6"/><line x1="415.3" y1="907.1" x2="415.3" y2="911.7" stroke-width="1.2"/><line x1="458" y1="907.1" x2="458" y2="911.7" stroke-width="1.2"/><line x1="488.3" y1="907.1" x2="488.3" y2="911.7" stroke-width="1.2"/><line x1="511.8" y1="907.1" x2="511.8" y2="911.7" stroke-width="1.2"/><line x1="91" y1="907.1" x2="99.8" y2="907.1" stroke-width="1.6"/><line x1="95.2" y1="876.62" x2="99.8" y2="876.62" stroke-width="1.2"/><line x1="95.2" y1="858.79" x2="99.8" y2="858.79" stroke-width="1.2"/><line x1="95.2" y1="846.14" x2="99.8" y2="846.14" stroke-width="1.2"/><line x1="95.2" y1="836.33" x2="99.8" y2="836.33" stroke-width="1.2"/><line x1="95.2" y1="828.31" x2="99.8" y2="828.31" stroke-width="1.2"/><line x1="95.2" y1="821.53" x2="99.8" y2="821.53" stroke-width="1.2"/><line x1="95.2" y1="815.66" x2="99.8" y2="815.66" stroke-width="1.2"/><line x1="95.2" y1="810.48" x2="99.8" y2="810.48" stroke-width="1.2"/><line x1="91" y1="805.85" x2="99.8" y2="805.85" stroke-width="1.6"/><line x1="95.2" y1="775.37" x2="99.8" y2="775.37" stroke-width="1.2"/><line x1="95.2" y1="757.54" x2="99.8" y2="757.54" stroke-width="1.2"/><line x1="95.2" y1="744.89" x2="99.8" y2="744.89" stroke-width="1.2"/><line x1="95.2" y1="735.08" x2="99.8" y2="735.08" stroke-width="1.2"/><line x1="95.2" y1="727.06" x2="99.8" y2="727.06" stroke-width="1.2"/><line x1="95.2" y1="720.28" x2="99.8" y2="720.28" stroke-width="1.2"/><line x1="95.2" y1="714.41" x2="99.8" y2="714.41" stroke-width="1.2"/><line x1="95.2" y1="709.23" x2="99.8" y2="709.23" stroke-width="1.2"/><line x1="91" y1="704.6" x2="99.8" y2="704.6" stroke-width="1.6"/><rect x="99.8" y="677.9" width="425.2" height="229.2" fill="none" stroke-width="1.6"/><line x1="684" y1="907.1" x2="684" y2="915.9" stroke-width="1.6"/><line x1="735.42" y1="907.1" x2="735.42" y2="911.7" stroke-width="1.2"/><line x1="765.49" y1="907.1" x2="765.49" y2="911.7" stroke-width="1.2"/><line x1="786.83" y1="907.1" x2="786.83" y2="911.7" stroke-width="1.2"/><line x1="803.38" y1="907.1" x2="803.38" y2="911.7" stroke-width="1.2"/><line x1="816.91" y1="907.1" x2="816.91" y2="911.7" stroke-width="1.2"/><line x1="828.34" y1="907.1" x2="828.34" y2="911.7" stroke-width="1.2"/><line x1="838.25" y1="907.1" x2="838.25" y2="911.7" stroke-width="1.2"/><line x1="846.98" y1="907.1" x2="846.98" y2="911.7" stroke-width="1.2"/><line x1="854.8" y1="907.1" x2="854.8" y2="915.9" stroke-width="1.6"/><line x1="906.22" y1="907.1" x2="906.22" y2="911.7" stroke-width="1.2"/><line x1="936.29" y1="907.1" x2="936.29" y2="911.7" stroke-width="1.2"/><line x1="957.63" y1="907.1" x2="957.63" y2="911.7" stroke-width="1.2"/><line x1="974.18" y1="907.1" x2="974.18" y2="911.7" stroke-width="1.2"/><line x1="987.71" y1="907.1" x2="987.71" y2="911.7" stroke-width="1.2"/><line x1="999.14" y1="907.1" x2="999.14" y2="911.7" stroke-width="1.2"/><line x1="1009.05" y1="907.1" x2="1009.05" y2="911.7" stroke-width="1.2"/><line x1="1017.78" y1="907.1" x2="1017.78" y2="911.7" stroke-width="1.2"/><line x1="1025.6" y1="907.1" x2="1025.6" y2="915.9" stroke-width="1.6"/><line x1="1077.02" y1="907.1" x2="1077.02" y2="911.7" stroke-width="1.2"/><line x1="1107.09" y1="907.1" x2="1107.09" y2="911.7" stroke-width="1.2"/><line x1="675.2" y1="907.1" x2="684" y2="907.1" stroke-width="1.6"/><line x1="679.4" y1="884.1" x2="684" y2="884.1" stroke-width="1.2"/><line x1="679.4" y1="870.65" x2="684" y2="870.65" stroke-width="1.2"/><line x1="679.4" y1="861.1" x2="684" y2="861.1" stroke-width="1.2"/><line x1="679.4" y1="853.7" x2="684" y2="853.7" stroke-width="1.2"/><line x1="679.4" y1="847.65" x2="684" y2="847.65" stroke-width="1.2"/><line x1="679.4" y1="842.53" x2="684" y2="842.53" stroke-width="1.2"/><line x1="679.4" y1="838.1" x2="684" y2="838.1" stroke-width="1.2"/><line x1="679.4" y1="834.2" x2="684" y2="834.2" stroke-width="1.2"/><line x1="675.2" y1="830.7" x2="684" y2="830.7" stroke-width="1.6"/><line x1="679.4" y1="807.7" x2="684" y2="807.7" stroke-width="1.2"/><line x1="679.4" y1="794.25" x2="684" y2="794.25" stroke-width="1.2"/><line x1="679.4" y1="784.7" x2="684" y2="784.7" stroke-width="1.2"/><line x1="679.4" y1="777.3" x2="684" y2="777.3" stroke-width="1.2"/><line x1="679.4" y1="771.25" x2="684" y2="771.25" stroke-width="1.2"/><line x1="679.4" y1="766.13" x2="684" y2="766.13" stroke-width="1.2"/><line x1="679.4" y1="761.7" x2="684" y2="761.7" stroke-width="1.2"/><line x1="679.4" y1="757.8" x2="684" y2="757.8" stroke-width="1.2"/><line x1="675.2" y1="754.3" x2="684" y2="754.3" stroke-width="1.6"/><line x1="679.4" y1="731.3" x2="684" y2="731.3" stroke-width="1.2"/><line x1="679.4" y1="717.85" x2="684" y2="717.85" stroke-width="1.2"/><line x1="679.4" y1="708.3" x2="684" y2="708.3" stroke-width="1.2"/><line x1="679.4" y1="700.9" x2="684" y2="700.9" stroke-width="1.2"/><line x1="679.4" y1="694.85" x2="684" y2="694.85" stroke-width="1.2"/><line x1="679.4" y1="689.73" x2="684" y2="689.73" stroke-width="1.2"/><line x1="679.4" y1="685.3" x2="684" y2="685.3" stroke-width="1.2"/><line x1="679.4" y1="681.4" x2="684" y2="681.4" stroke-width="1.2"/><line x1="675.2" y1="677.9" x2="684" y2="677.9" stroke-width="1.6"/><rect x="684" y="677.9" width="425" height="229.2" fill="none" stroke-width="1.6"/></g>
<rect x="299.6" y="8.3" width="512.3" height="26.6" fill="#460a5d"/><rect x="325.19" y="8.3" width="486.71" height="26.6" fill="#481c6e"/><rect x="350.78" y="8.3" width="461.12" height="26.6" fill="#472d7b"/><rect x="376.37" y="8.3" width="435.53" height="26.6" fill="#443b84"/><rect x="401.96" y="8.3" width="409.94" height="26.6" fill="#3e4a89"/><rect x="427.55" y="8.3" width="384.35" height="26.6" fill="#38598c"/><rect x="453.14" y="8.3" width="358.76" height="26.6" fill="#31668e"/><rect x="478.73" y="8.3" width="333.17" height="26.6" fill="#2c728e"/><rect x="504.32" y="8.3" width="307.58" height="26.6" fill="#277e8e"/><rect x="529.91" y="8.3" width="281.99" height="26.6" fill="#238a8d"/><rect x="555.5" y="8.3" width="256.4" height="26.6" fill="#1f968b"/><rect x="581.09" y="8.3" width="230.81" height="26.6" fill="#1fa287"/><rect x="606.68" y="8.3" width="205.22" height="26.6" fill="#28ae80"/><rect x="632.27" y="8.3" width="179.63" height="26.6" fill="#38b977"/><rect x="657.86" y="8.3" width="154.04" height="26.6" fill="#50c46a"/><rect x="683.45" y="8.3" width="128.45" height="26.6" fill="#6ccd5a"/><rect x="709.04" y="8.3" width="102.86" height="26.6" fill="#8bd646"/><rect x="734.63" y="8.3" width="77.27" height="26.6" fill="#addc30"/><rect x="760.22" y="8.3" width="51.68" height="26.6" fill="#cde11d"/><rect x="785.81" y="8.3" width="26.09" height="26.6" fill="#efe51c"/><path d="M811.4,8.3 L838.2,21.6 L811.4,34.9Z" fill="#fde725"/><path d="M299.6,8.3 L811.4,8.3 L838.2,21.6 L811.4,34.9 L299.6,34.9Z" fill="none" stroke="#000" stroke-width="1.6"/><line x1="299.6" y1="34.9" x2="299.6" y2="43.4" stroke="#000" stroke-width="1.6"/><line x1="401.96" y1="34.9" x2="401.96" y2="43.4" stroke="#000" stroke-width="1.6"/><line x1="504.32" y1="34.9" x2="504.32" y2="43.4" stroke="#000" stroke-width="1.6"/><line x1="606.68" y1="34.9" x2="606.68" y2="43.4" stroke="#000" stroke-width="1.6"/><line x1="709.04" y1="34.9" x2="709.04" y2="43.4" stroke="#000" stroke-width="1.6"/><line x1="811.4" y1="34.9" x2="811.4" y2="43.4" stroke="#000" stroke-width="1.6"/>

<text x="299.9" y="71.3" font-size="24.5" text-anchor="middle">0</text><text x="402.26" y="71.3" font-size="24.5" text-anchor="middle">1</text><text x="504.62" y="71.3" font-size="24.5" text-anchor="middle">2</text><text x="606.98" y="71.3" font-size="24.5" text-anchor="middle">3</text><text x="709.34" y="71.3" font-size="24.5" text-anchor="middle">4</text><text x="811.7" y="71.3" font-size="24.5" text-anchor="middle">5</text><text x="847.6" y="29.6" font-size="23.5" font-style="italic">k</text><text x="857.6" y="33.6" font-size="17">3</text><text transform="translate(866.0,29.6) scale(1.18,0.93)" font-size="24.5" font-style="italic">E</text><text x="883.4" y="23.6" font-size="20">+</text><text x="883.2" y="33.6" font-size="17">11</text><text x="260.5" y="114.6" font-size="24.5" font-style="italic">Re</text><text x="288" y="119.5" font-size="17" font-style="italic">τ</text><text transform="translate(301.5,116.3) scale(1.22,0.9)" font-size="29">≈</text><text x="328.6" y="114.6" font-size="24.5">180</text><text x="838.9" y="114.6" font-size="24.5" font-style="italic">Re</text><text x="866.4" y="119.5" font-size="17" font-style="italic">τ</text><text transform="translate(879.9,116.3) scale(1.22,0.9)" font-size="29">≈</text><text x="907" y="114.6" font-size="24.5">1000</text><text x="3.3" y="135.6" font-size="29">(</text><text x="20.5" y="135.6" font-size="27" font-style="italic" text-anchor="middle">a</text><text x="27.9" y="135.6" font-size="29">)</text><text x="48.8" y="366" font-size="24.5">10</text><text x="73.9" y="356.5" font-size="17">0</text><text x="48.8" y="264.75" font-size="24.5">10</text><text x="73.9" y="255.25" font-size="17">1</text><text x="48.8" y="163.5" font-size="24.5">10</text><text x="73.9" y="154" font-size="17">2</text><text transform="translate(4.6,255.7) scale(1.3,0.95)" font-size="27" font-style="italic">x</text><text x="19.8" y="260.2" font-size="17">2</text><text x="19" y="249.5" font-size="25">+</text><text x="581.8" y="135.6" font-size="29">(</text><text x="599" y="135.6" font-size="27" font-style="italic" text-anchor="middle">b</text><text x="606.4" y="135.6" font-size="29">)</text><text x="631.6" y="366" font-size="24.5">10</text><text x="656.7" y="356.5" font-size="17">0</text><text x="631.6" y="289.6" font-size="24.5">10</text><text x="656.7" y="280.1" font-size="17">1</text><text x="631.6" y="213.2" font-size="24.5">10</text><text x="656.7" y="203.7" font-size="17">2</text><text x="631.6" y="136.8" font-size="24.5">10</text><text x="656.7" y="127.3" font-size="17">3</text><text x="3.3" y="409.75" font-size="29">(</text><text x="20.5" y="409.75" font-size="27" font-style="italic" text-anchor="middle">c</text><text x="27.9" y="409.75" font-size="29">)</text><text x="48.8" y="640.15" font-size="24.5">10</text><text x="73.9" y="630.65" font-size="17">0</text><text x="48.8" y="538.9" font-size="24.5">10</text><text x="73.9" y="529.4" font-size="17">1</text><text x="48.8" y="437.65" font-size="24.5">10</text><text x="73.9" y="428.15" font-size="17">2</text><text transform="translate(4.6,529.85) scale(1.3,0.95)" font-size="27" font-style="italic">x</text><text x="19.8" y="534.35" font-size="17">2</text><text x="19" y="523.65" font-size="25">+</text><text x="581.8" y="409.75" font-size="29">(</text><text x="599" y="409.75" font-size="27" font-style="italic" text-anchor="middle">d</text><text x="606.4" y="409.75" font-size="29">)</text><text x="631.6" y="640.15" font-size="24.5">10</text><text x="656.7" y="630.65" font-size="17">0</text><text x="631.6" y="563.75" font-size="24.5">10</text><text x="656.7" y="554.25" font-size="17">1</text><text x="631.6" y="487.35" font-size="24.5">10</text><text x="656.7" y="477.85" font-size="17">2</text><text x="631.6" y="410.95" font-size="24.5">10</text><text x="656.7" y="401.45" font-size="17">3</text><text x="3.3" y="683.9" font-size="29">(</text><text x="20.5" y="683.9" font-size="27" font-style="italic" text-anchor="middle">e</text><text x="27.9" y="683.9" font-size="29">)</text><text x="48.8" y="914.3" font-size="24.5">10</text><text x="73.9" y="904.8" font-size="17">0</text><text x="48.8" y="813.05" font-size="24.5">10</text><text x="73.9" y="803.55" font-size="17">1</text><text x="48.8" y="711.8" font-size="24.5">10</text><text x="73.9" y="702.3" font-size="17">2</text><text transform="translate(4.6,804) scale(1.3,0.95)" font-size="27" font-style="italic">x</text><text x="19.8" y="808.5" font-size="17">2</text><text x="19" y="797.8" font-size="25">+</text><text x="83.4" y="943.9" font-size="24.5">10</text><text x="108.5" y="934.4" font-size="17">1</text><text x="325.9" y="943.9" font-size="24.5">10</text><text x="351" y="934.4" font-size="17">2</text><g transform="translate(-584.1,0)"><path d="M886.2,961.8 C887.4,960.1 889.3,960.0 889.9,962.6 L892.2,977.0 C892.6,979.2 893.6,979.9 894.7,978.5" fill="none" stroke="#000" stroke-width="1.9" stroke-linecap="round"/><path d="M889.4,966.3 L891.3,968.3 L882.3,980.3 L879.9,979.9 Z" fill="#000"/></g><text x="313.7" y="984.6" font-size="17">3</text><text x="312.5" y="970.5" font-size="25">+</text><text x="581.8" y="683.9" font-size="29">(</text><text x="599" y="683.9" font-size="27" font-style="italic" text-anchor="middle">f</text><text x="606.4" y="683.9" font-size="29">)</text><text x="631.6" y="914.3" font-size="24.5">10</text><text x="656.7" y="904.8" font-size="17">0</text><text x="631.6" y="837.9" font-size="24.5">10</text><text x="656.7" y="828.4" font-size="17">1</text><text x="631.6" y="761.5" font-size="24.5">10</text><text x="656.7" y="752" font-size="17">2</text><text x="631.6" y="685.1" font-size="24.5">10</text><text x="656.7" y="675.6" font-size="17">3</text><text x="667.6" y="943.9" font-size="24.5">10</text><text x="692.7" y="934.4" font-size="17">1</text><text x="838.4" y="943.9" font-size="24.5">10</text><text x="863.5" y="934.4" font-size="17">2</text><text x="1009.2" y="943.9" font-size="24.5">10</text><text x="1034.3" y="934.4" font-size="17">3</text><g transform="translate(0,0)"><path d="M886.2,961.8 C887.4,960.1 889.3,960.0 889.9,962.6 L892.2,977.0 C892.6,979.2 893.6,979.9 894.7,978.5" fill="none" stroke="#000" stroke-width="1.9" stroke-linecap="round"/><path d="M889.4,966.3 L891.3,968.3 L882.3,980.3 L879.9,979.9 Z" fill="#000"/></g><text x="897.8" y="984.6" font-size="17">3</text><text x="896.6" y="970.5" font-size="25">+</text><g transform="translate(1147.5,244.2) rotate(-90)"><text x="0" y="0" font-size="24.5" text-anchor="middle">Baseline</text></g><g transform="translate(1147.5,518.9) rotate(-90)"><text x="-54.7" y="0" font-size="27" font-style="italic">u</text><text x="-42.3" y="-0.8" font-size="27">′</text><text x="-41.7" y="5" font-size="17">1,</text><text x="-30.2" y="5" font-size="17" font-style="italic">a</text><text x="-16.7" y="0" font-size="27" font-style="italic">x</text><text x="-4.7" y="-11" font-size="20">+</text><text x="-3.7" y="5" font-size="17">2,</text><text x="7.8" y="5" font-size="17" font-style="italic">c</text><text x="23.3" y="0" font-size="27">=</text><text x="44.8" y="0" font-size="24.5">1</text></g><g transform="translate(1147.5,793.3) rotate(-90)"><text x="-60.2" y="0" font-size="27" font-style="italic">u</text><text x="-47.8" y="-0.8" font-size="27">′</text><text x="-47.2" y="5" font-size="17">1,</text><text x="-35.7" y="5" font-size="17" font-style="italic">p</text><text x="-21.2" y="0" font-size="25.2">LoLoLo</text></g>
</svg></body></html>
